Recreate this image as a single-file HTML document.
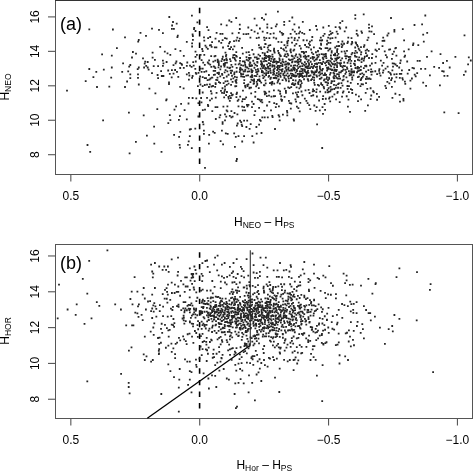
<!DOCTYPE html>
<html><head><meta charset="utf-8"><style>
html,body{margin:0;padding:0;background:#fff;}
svg{display:block;}
.t{font-family:"Liberation Sans", Arial, Helvetica, sans-serif;font-size:12px;fill:#000;}
.sub{font-size:8.5px;}
.lab{font-family:"Liberation Sans", Arial, Helvetica, sans-serif;font-size:18px;fill:#000;}
</style></head><body>
<svg width="473" height="471" viewBox="0 0 473 471">
<rect width="473" height="471" fill="#fff"/>
<rect x="55.5" y="0.5" width="417" height="174" fill="none" stroke="#555" stroke-width="1"/>
<line x1="70.83" y1="174" x2="70.83" y2="181.6" stroke="#555" stroke-width="1.1"/>
<text x="70.8" y="200" text-anchor="middle" class="t">0.5</text>
<line x1="199.7" y1="174" x2="199.7" y2="181.6" stroke="#555" stroke-width="1.1"/>
<text x="199.7" y="200" text-anchor="middle" class="t">0.0</text>
<line x1="328.56" y1="174" x2="328.56" y2="181.6" stroke="#555" stroke-width="1.1"/>
<text x="328.6" y="200" text-anchor="middle" class="t">−0.5</text>
<line x1="457.43" y1="174" x2="457.43" y2="181.6" stroke="#555" stroke-width="1.1"/>
<text x="457.4" y="200" text-anchor="middle" class="t">−1.0</text>
<line x1="48" y1="154.7" x2="55.5" y2="154.7" stroke="#555" stroke-width="1.1"/>
<text transform="translate(39 154.7) rotate(-90)" text-anchor="middle" class="t">8</text>
<line x1="48" y1="120.25" x2="55.5" y2="120.25" stroke="#555" stroke-width="1.1"/>
<text transform="translate(39 120.2) rotate(-90)" text-anchor="middle" class="t">10</text>
<line x1="48" y1="85.8" x2="55.5" y2="85.8" stroke="#555" stroke-width="1.1"/>
<text transform="translate(39 85.8) rotate(-90)" text-anchor="middle" class="t">12</text>
<line x1="48" y1="51.35" x2="55.5" y2="51.35" stroke="#555" stroke-width="1.1"/>
<text transform="translate(39 51.4) rotate(-90)" text-anchor="middle" class="t">14</text>
<line x1="48" y1="16.9" x2="55.5" y2="16.9" stroke="#555" stroke-width="1.1"/>
<text transform="translate(39 16.9) rotate(-90)" text-anchor="middle" class="t">16</text>
<text x="60" y="30.4" class="lab">(a)</text>
<text transform="translate(9 87.0) rotate(-90)" text-anchor="middle" class="t">H<tspan class="sub" dy="2">NEO</tspan></text>
<text x="264.3" y="225.6" text-anchor="middle" class="t">H<tspan class="sub" dy="2">NEO</tspan><tspan dy="-2"> – H</tspan><tspan class="sub" dy="2">PS</tspan></text>
<line x1="199.6" y1="7.8" x2="199.6" y2="164.5" stroke="#000" stroke-width="1.6" stroke-dasharray="5.4 6.2"/>
<line x1="55" y1="0.5" x2="473" y2="0.5" stroke="#333" stroke-width="1"/>
<rect x="55.5" y="244.5" width="417" height="174" fill="none" stroke="#555" stroke-width="1"/>
<line x1="70.83" y1="418" x2="70.83" y2="425.6" stroke="#555" stroke-width="1.1"/>
<text x="70.8" y="444" text-anchor="middle" class="t">0.5</text>
<line x1="199.7" y1="418" x2="199.7" y2="425.6" stroke="#555" stroke-width="1.1"/>
<text x="199.7" y="444" text-anchor="middle" class="t">0.0</text>
<line x1="328.56" y1="418" x2="328.56" y2="425.6" stroke="#555" stroke-width="1.1"/>
<text x="328.6" y="444" text-anchor="middle" class="t">−0.5</text>
<line x1="457.43" y1="418" x2="457.43" y2="425.6" stroke="#555" stroke-width="1.1"/>
<text x="457.4" y="444" text-anchor="middle" class="t">−1.0</text>
<line x1="48" y1="399.24" x2="55.5" y2="399.24" stroke="#555" stroke-width="1.1"/>
<text transform="translate(39 399.2) rotate(-90)" text-anchor="middle" class="t">8</text>
<line x1="48" y1="363.42" x2="55.5" y2="363.42" stroke="#555" stroke-width="1.1"/>
<text transform="translate(39 363.4) rotate(-90)" text-anchor="middle" class="t">10</text>
<line x1="48" y1="327.6" x2="55.5" y2="327.6" stroke="#555" stroke-width="1.1"/>
<text transform="translate(39 327.6) rotate(-90)" text-anchor="middle" class="t">12</text>
<line x1="48" y1="291.78" x2="55.5" y2="291.78" stroke="#555" stroke-width="1.1"/>
<text transform="translate(39 291.8) rotate(-90)" text-anchor="middle" class="t">14</text>
<line x1="48" y1="255.96" x2="55.5" y2="255.96" stroke="#555" stroke-width="1.1"/>
<text transform="translate(39 256.0) rotate(-90)" text-anchor="middle" class="t">16</text>
<text x="60" y="269.4" class="lab">(b)</text>
<text transform="translate(9 331.0) rotate(-90)" text-anchor="middle" class="t">H<tspan class="sub" dy="2">HOR</tspan></text>
<text x="264.3" y="468.8" text-anchor="middle" class="t">H<tspan class="sub" dy="2">Hor</tspan><tspan dy="-2"> – H</tspan><tspan class="sub" dy="2">PS</tspan></text>
<line x1="199.6" y1="252.3" x2="199.6" y2="409" stroke="#000" stroke-width="1.6" stroke-dasharray="5.4 6.2"/>
<line x1="250.3" y1="250.2" x2="250.3" y2="345.5" stroke="#333" stroke-width="1.1"/>
<line x1="147.3" y1="418.2" x2="250.3" y2="345.3" stroke="#000" stroke-width="1.3"/>
<path d="M88.40 28.40h1.8v1.8h-1.8zM112.00 28.60h1.8v1.8h-1.8zM151.10 27.80h1.8v1.8h-1.8zM139.60 32.00h1.8v1.8h-1.8zM145.10 35.00h1.8v1.8h-1.8zM124.10 36.50h1.8v1.8h-1.8zM137.90 39.00h1.8v1.8h-1.8zM137.30 40.70h1.8v1.8h-1.8zM116.00 47.30h1.8v1.8h-1.8zM101.20 53.50h1.8v1.8h-1.8zM110.90 54.70h1.8v1.8h-1.8zM132.00 51.10h1.8v1.8h-1.8zM135.10 52.80h1.8v1.8h-1.8zM151.70 51.80h1.8v1.8h-1.8zM131.10 56.60h1.8v1.8h-1.8zM142.10 57.50h1.8v1.8h-1.8zM151.70 56.80h1.8v1.8h-1.8zM154.00 59.00h1.8v1.8h-1.8zM144.30 60.70h1.8v1.8h-1.8zM146.80 61.10h1.8v1.8h-1.8zM122.20 62.40h1.8v1.8h-1.8zM129.40 64.10h1.8v1.8h-1.8zM128.30 65.80h1.8v1.8h-1.8zM143.80 62.80h1.8v1.8h-1.8zM145.30 64.90h1.8v1.8h-1.8zM143.20 66.60h1.8v1.8h-1.8zM146.80 66.60h1.8v1.8h-1.8zM147.70 68.70h1.8v1.8h-1.8zM152.80 65.30h1.8v1.8h-1.8zM137.90 66.60h1.8v1.8h-1.8zM136.80 68.30h1.8v1.8h-1.8zM110.90 66.60h1.8v1.8h-1.8zM102.90 68.70h1.8v1.8h-1.8zM88.40 68.10h1.8v1.8h-1.8zM95.40 70.90h1.8v1.8h-1.8zM121.30 70.90h1.8v1.8h-1.8zM127.30 70.40h1.8v1.8h-1.8zM129.40 73.40h1.8v1.8h-1.8zM137.10 73.40h1.8v1.8h-1.8zM151.10 72.30h1.8v1.8h-1.8zM92.50 76.20h1.8v1.8h-1.8zM110.30 76.80h1.8v1.8h-1.8zM129.40 77.20h1.8v1.8h-1.8zM137.10 77.00h1.8v1.8h-1.8zM84.80 80.20h1.8v1.8h-1.8zM126.20 80.60h1.8v1.8h-1.8zM137.90 83.60h1.8v1.8h-1.8zM96.10 86.10h1.8v1.8h-1.8zM108.40 85.70h1.8v1.8h-1.8zM124.10 86.10h1.8v1.8h-1.8zM148.50 87.80h1.8v1.8h-1.8zM66.10 89.80h1.8v1.8h-1.8zM154.50 92.50h1.8v1.8h-1.8zM128.00 111.70h1.8v1.8h-1.8zM142.80 114.50h1.8v1.8h-1.8zM102.20 119.50h1.8v1.8h-1.8zM153.20 125.70h1.8v1.8h-1.8zM146.00 134.80h1.8v1.8h-1.8zM135.00 140.90h1.8v1.8h-1.8zM153.40 142.80h1.8v1.8h-1.8zM86.60 144.10h1.8v1.8h-1.8zM89.30 151.00h1.8v1.8h-1.8zM128.70 152.50h1.8v1.8h-1.8zM168.40 16.10h1.8v1.8h-1.8zM191.00 14.80h1.8v1.8h-1.8zM172.10 21.10h1.8v1.8h-1.8zM175.80 22.70h1.8v1.8h-1.8zM171.20 24.60h1.8v1.8h-1.8zM171.00 28.00h1.8v1.8h-1.8zM173.00 28.00h1.8v1.8h-1.8zM196.50 21.40h1.8v1.8h-1.8zM158.10 29.00h1.8v1.8h-1.8zM162.00 32.20h1.8v1.8h-1.8zM193.30 26.90h1.8v1.8h-1.8zM193.10 28.30h1.8v1.8h-1.8zM194.60 30.10h1.8v1.8h-1.8zM176.90 34.70h1.8v1.8h-1.8zM176.50 36.30h1.8v1.8h-1.8zM191.70 33.60h1.8v1.8h-1.8zM192.00 35.20h1.8v1.8h-1.8zM192.00 38.90h1.8v1.8h-1.8zM185.90 41.00h1.8v1.8h-1.8zM191.20 42.40h1.8v1.8h-1.8zM191.20 45.60h1.8v1.8h-1.8zM203.10 36.50h1.8v1.8h-1.8zM203.40 39.80h1.8v1.8h-1.8zM204.50 44.70h1.8v1.8h-1.8zM159.30 46.00h1.8v1.8h-1.8zM174.50 48.30h1.8v1.8h-1.8zM201.30 48.10h1.8v1.8h-1.8zM163.90 50.70h1.8v1.8h-1.8zM166.60 52.50h1.8v1.8h-1.8zM169.40 53.90h1.8v1.8h-1.8zM182.90 54.90h1.8v1.8h-1.8zM179.50 49.90h1.8v1.8h-1.8zM162.00 59.70h1.8v1.8h-1.8zM165.70 61.10h1.8v1.8h-1.8zM162.50 62.40h1.8v1.8h-1.8zM162.00 65.00h1.8v1.8h-1.8zM157.20 65.20h1.8v1.8h-1.8zM175.50 60.60h1.8v1.8h-1.8zM174.70 62.40h1.8v1.8h-1.8zM172.60 64.30h1.8v1.8h-1.8zM179.30 62.20h1.8v1.8h-1.8zM180.60 62.90h1.8v1.8h-1.8zM181.10 64.00h1.8v1.8h-1.8zM186.40 61.60h1.8v1.8h-1.8zM185.90 65.00h1.8v1.8h-1.8zM182.90 66.90h1.8v1.8h-1.8zM179.30 67.10h1.8v1.8h-1.8zM189.10 64.80h1.8v1.8h-1.8zM192.30 61.30h1.8v1.8h-1.8zM194.90 60.60h1.8v1.8h-1.8zM190.70 65.90h1.8v1.8h-1.8zM192.80 64.80h1.8v1.8h-1.8zM194.40 68.00h1.8v1.8h-1.8zM160.20 70.30h1.8v1.8h-1.8zM167.30 69.60h1.8v1.8h-1.8zM171.00 69.30h1.8v1.8h-1.8zM174.20 69.10h1.8v1.8h-1.8zM176.10 70.90h1.8v1.8h-1.8zM168.90 73.00h1.8v1.8h-1.8zM172.60 72.70h1.8v1.8h-1.8zM156.70 74.10h1.8v1.8h-1.8zM160.90 75.10h1.8v1.8h-1.8zM162.50 75.10h1.8v1.8h-1.8zM157.20 77.20h1.8v1.8h-1.8zM170.80 76.50h1.8v1.8h-1.8zM177.40 76.00h1.8v1.8h-1.8zM185.90 73.50h1.8v1.8h-1.8zM188.00 71.90h1.8v1.8h-1.8zM188.50 74.60h1.8v1.8h-1.8zM191.70 75.10h1.8v1.8h-1.8zM191.20 76.90h1.8v1.8h-1.8zM188.00 78.80h1.8v1.8h-1.8zM194.90 71.90h1.8v1.8h-1.8zM195.40 73.00h1.8v1.8h-1.8zM168.10 81.50h1.8v1.8h-1.8zM168.10 83.30h1.8v1.8h-1.8zM179.30 86.00h1.8v1.8h-1.8zM182.70 87.50h1.8v1.8h-1.8zM165.70 98.50h1.8v1.8h-1.8zM188.00 96.90h1.8v1.8h-1.8zM191.70 97.10h1.8v1.8h-1.8zM195.40 97.40h1.8v1.8h-1.8zM194.60 50.70h1.8v1.8h-1.8zM201.80 50.20h1.8v1.8h-1.8zM196.00 53.90h1.8v1.8h-1.8zM199.70 53.90h1.8v1.8h-1.8zM203.40 53.90h1.8v1.8h-1.8zM194.60 56.00h1.8v1.8h-1.8zM200.70 59.20h1.8v1.8h-1.8zM202.30 61.80h1.8v1.8h-1.8zM203.90 64.00h1.8v1.8h-1.8zM199.70 67.70h1.8v1.8h-1.8zM201.80 67.70h1.8v1.8h-1.8zM197.60 71.90h1.8v1.8h-1.8zM200.70 70.90h1.8v1.8h-1.8zM203.40 70.90h1.8v1.8h-1.8zM199.20 75.60h1.8v1.8h-1.8zM201.80 76.20h1.8v1.8h-1.8zM203.90 77.20h1.8v1.8h-1.8zM199.50 83.60h1.8v1.8h-1.8zM197.00 85.20h1.8v1.8h-1.8zM201.80 85.20h1.8v1.8h-1.8zM203.90 84.10h1.8v1.8h-1.8zM201.80 91.60h1.8v1.8h-1.8zM200.20 97.10h1.8v1.8h-1.8zM165.30 99.40h1.8v1.8h-1.8zM180.20 103.00h1.8v1.8h-1.8zM187.60 102.60h1.8v1.8h-1.8zM175.20 105.40h1.8v1.8h-1.8zM156.40 108.20h1.8v1.8h-1.8zM173.60 108.80h1.8v1.8h-1.8zM183.70 109.20h1.8v1.8h-1.8zM168.90 114.30h1.8v1.8h-1.8zM179.00 115.30h1.8v1.8h-1.8zM169.50 119.20h1.8v1.8h-1.8zM178.00 118.90h1.8v1.8h-1.8zM185.90 118.40h1.8v1.8h-1.8zM167.40 122.20h1.8v1.8h-1.8zM188.90 128.60h1.8v1.8h-1.8zM190.00 128.20h1.8v1.8h-1.8zM194.40 127.80h1.8v1.8h-1.8zM179.40 131.00h1.8v1.8h-1.8zM173.20 134.00h1.8v1.8h-1.8zM178.20 136.00h1.8v1.8h-1.8zM188.90 135.20h1.8v1.8h-1.8zM187.80 140.40h1.8v1.8h-1.8zM178.70 143.90h1.8v1.8h-1.8zM179.10 146.70h1.8v1.8h-1.8zM187.00 143.90h1.8v1.8h-1.8zM190.90 147.30h1.8v1.8h-1.8zM160.60 150.90h1.8v1.8h-1.8zM197.50 102.20h1.8v1.8h-1.8zM200.60 101.50h1.8v1.8h-1.8zM197.50 115.60h1.8v1.8h-1.8zM201.90 109.30h1.8v1.8h-1.8zM204.10 108.80h1.8v1.8h-1.8zM201.90 121.10h1.8v1.8h-1.8zM202.50 123.40h1.8v1.8h-1.8zM203.00 129.70h1.8v1.8h-1.8zM203.00 132.90h1.8v1.8h-1.8zM204.10 167.00h1.8v1.8h-1.8zM424.40 14.60h1.8v1.8h-1.8zM401.90 28.20h1.8v1.8h-1.8zM413.60 24.10h1.8v1.8h-1.8zM421.20 23.50h1.8v1.8h-1.8zM422.30 33.70h1.8v1.8h-1.8zM426.30 32.00h1.8v1.8h-1.8zM422.90 40.70h1.8v1.8h-1.8zM403.20 39.40h1.8v1.8h-1.8zM412.10 44.30h1.8v1.8h-1.8zM412.50 42.60h1.8v1.8h-1.8zM417.40 44.30h1.8v1.8h-1.8zM463.60 34.50h1.8v1.8h-1.8zM407.80 48.50h1.8v1.8h-1.8zM403.20 50.40h1.8v1.8h-1.8zM430.70 50.40h1.8v1.8h-1.8zM404.20 54.70h1.8v1.8h-1.8zM403.60 56.00h1.8v1.8h-1.8zM395.50 54.70h1.8v1.8h-1.8zM426.10 56.00h1.8v1.8h-1.8zM439.60 53.20h1.8v1.8h-1.8zM454.50 56.00h1.8v1.8h-1.8zM467.90 56.40h1.8v1.8h-1.8zM469.90 59.60h1.8v1.8h-1.8zM467.20 63.40h1.8v1.8h-1.8zM399.80 59.60h1.8v1.8h-1.8zM406.30 60.60h1.8v1.8h-1.8zM416.70 60.00h1.8v1.8h-1.8zM418.90 60.00h1.8v1.8h-1.8zM446.00 60.00h1.8v1.8h-1.8zM442.20 62.10h1.8v1.8h-1.8zM399.30 62.30h1.8v1.8h-1.8zM396.20 64.90h1.8v1.8h-1.8zM398.30 66.60h1.8v1.8h-1.8zM433.30 65.90h1.8v1.8h-1.8zM438.20 67.00h1.8v1.8h-1.8zM448.80 66.60h1.8v1.8h-1.8zM411.60 67.00h1.8v1.8h-1.8zM413.10 67.40h1.8v1.8h-1.8zM408.30 69.10h1.8v1.8h-1.8zM420.10 68.00h1.8v1.8h-1.8zM424.40 68.00h1.8v1.8h-1.8zM401.00 69.50h1.8v1.8h-1.8zM441.30 70.20h1.8v1.8h-1.8zM442.80 70.60h1.8v1.8h-1.8zM464.70 70.60h1.8v1.8h-1.8zM463.00 74.00h1.8v1.8h-1.8zM416.30 72.30h1.8v1.8h-1.8zM406.80 72.70h1.8v1.8h-1.8zM398.90 72.90h1.8v1.8h-1.8zM400.40 72.90h1.8v1.8h-1.8zM395.70 73.30h1.8v1.8h-1.8zM413.80 73.80h1.8v1.8h-1.8zM414.80 75.50h1.8v1.8h-1.8zM429.00 74.40h1.8v1.8h-1.8zM443.50 75.00h1.8v1.8h-1.8zM446.60 75.00h1.8v1.8h-1.8zM395.50 76.50h1.8v1.8h-1.8zM398.90 77.00h1.8v1.8h-1.8zM401.50 77.20h1.8v1.8h-1.8zM401.90 78.70h1.8v1.8h-1.8zM411.00 77.60h1.8v1.8h-1.8zM409.50 79.70h1.8v1.8h-1.8zM404.00 80.80h1.8v1.8h-1.8zM404.40 82.90h1.8v1.8h-1.8zM422.30 81.80h1.8v1.8h-1.8zM425.20 85.00h1.8v1.8h-1.8zM439.00 84.40h1.8v1.8h-1.8zM409.50 87.80h1.8v1.8h-1.8zM398.70 93.90h1.8v1.8h-1.8zM402.50 98.00h1.8v1.8h-1.8zM357.10 100.30h1.8v1.8h-1.8zM367.00 104.50h1.8v1.8h-1.8zM364.30 110.00h1.8v1.8h-1.8zM399.10 100.80h1.8v1.8h-1.8zM402.60 99.60h1.8v1.8h-1.8zM443.40 111.50h1.8v1.8h-1.8zM457.70 112.20h1.8v1.8h-1.8zM207.00 103.90h1.8v1.8h-1.8zM207.30 105.10h1.8v1.8h-1.8zM209.10 99.40h1.8v1.8h-1.8zM214.60 106.20h1.8v1.8h-1.8zM216.50 106.20h1.8v1.8h-1.8zM211.40 110.20h1.8v1.8h-1.8zM222.50 105.80h1.8v1.8h-1.8zM226.50 105.40h1.8v1.8h-1.8zM225.70 109.40h1.8v1.8h-1.8zM226.50 110.50h1.8v1.8h-1.8zM230.50 110.20h1.8v1.8h-1.8zM233.60 112.10h1.8v1.8h-1.8zM236.50 113.40h1.8v1.8h-1.8zM237.60 105.40h1.8v1.8h-1.8zM241.30 105.80h1.8v1.8h-1.8zM243.20 106.20h1.8v1.8h-1.8zM241.90 109.40h1.8v1.8h-1.8zM244.10 109.40h1.8v1.8h-1.8zM246.00 103.90h1.8v1.8h-1.8zM247.60 103.90h1.8v1.8h-1.8zM246.60 105.40h1.8v1.8h-1.8zM228.90 99.90h1.8v1.8h-1.8zM236.80 99.90h1.8v1.8h-1.8zM241.30 100.40h1.8v1.8h-1.8zM251.10 100.70h1.8v1.8h-1.8zM252.70 103.10h1.8v1.8h-1.8zM259.80 100.40h1.8v1.8h-1.8zM261.40 101.50h1.8v1.8h-1.8zM268.50 101.00h1.8v1.8h-1.8zM273.30 102.30h1.8v1.8h-1.8zM275.70 103.10h1.8v1.8h-1.8zM278.00 105.40h1.8v1.8h-1.8zM274.90 106.20h1.8v1.8h-1.8zM251.10 106.20h1.8v1.8h-1.8zM254.30 110.20h1.8v1.8h-1.8zM258.20 107.00h1.8v1.8h-1.8zM263.40 109.90h1.8v1.8h-1.8zM266.10 104.60h1.8v1.8h-1.8zM270.10 109.40h1.8v1.8h-1.8zM253.50 114.20h1.8v1.8h-1.8zM219.40 114.20h1.8v1.8h-1.8zM218.60 116.50h1.8v1.8h-1.8zM224.10 113.40h1.8v1.8h-1.8zM225.40 115.70h1.8v1.8h-1.8zM228.90 115.00h1.8v1.8h-1.8zM230.50 116.50h1.8v1.8h-1.8zM231.70 115.70h1.8v1.8h-1.8zM214.90 118.10h1.8v1.8h-1.8zM224.10 119.40h1.8v1.8h-1.8zM221.70 121.30h1.8v1.8h-1.8zM221.70 122.90h1.8v1.8h-1.8zM239.20 119.70h1.8v1.8h-1.8zM243.20 119.70h1.8v1.8h-1.8zM246.30 119.70h1.8v1.8h-1.8zM236.80 122.60h1.8v1.8h-1.8zM240.30 121.30h1.8v1.8h-1.8zM240.80 123.70h1.8v1.8h-1.8zM236.00 124.80h1.8v1.8h-1.8zM241.30 125.30h1.8v1.8h-1.8zM249.80 123.20h1.8v1.8h-1.8zM245.50 126.10h1.8v1.8h-1.8zM248.70 128.00h1.8v1.8h-1.8zM259.00 118.90h1.8v1.8h-1.8zM259.80 120.00h1.8v1.8h-1.8zM261.40 116.50h1.8v1.8h-1.8zM263.80 116.50h1.8v1.8h-1.8zM266.90 116.50h1.8v1.8h-1.8zM271.40 115.00h1.8v1.8h-1.8zM271.70 116.20h1.8v1.8h-1.8zM277.70 114.20h1.8v1.8h-1.8zM278.40 115.70h1.8v1.8h-1.8zM278.80 119.40h1.8v1.8h-1.8zM258.20 123.70h1.8v1.8h-1.8zM255.50 126.10h1.8v1.8h-1.8zM274.10 128.10h1.8v1.8h-1.8zM212.20 130.80h1.8v1.8h-1.8zM213.80 131.90h1.8v1.8h-1.8zM221.00 129.70h1.8v1.8h-1.8zM224.90 132.40h1.8v1.8h-1.8zM226.80 132.90h1.8v1.8h-1.8zM233.30 132.40h1.8v1.8h-1.8zM208.30 134.00h1.8v1.8h-1.8zM234.90 135.90h1.8v1.8h-1.8zM237.60 135.30h1.8v1.8h-1.8zM243.20 135.30h1.8v1.8h-1.8zM251.40 135.30h1.8v1.8h-1.8zM255.80 132.70h1.8v1.8h-1.8zM260.60 132.10h1.8v1.8h-1.8zM219.70 140.30h1.8v1.8h-1.8zM222.20 143.50h1.8v1.8h-1.8zM208.00 142.70h1.8v1.8h-1.8zM241.30 140.60h1.8v1.8h-1.8zM252.70 141.60h1.8v1.8h-1.8zM234.00 146.00h1.8v1.8h-1.8zM236.00 158.10h1.8v1.8h-1.8zM235.50 160.10h1.8v1.8h-1.8zM280.90 99.90h1.8v1.8h-1.8zM288.00 99.90h1.8v1.8h-1.8zM288.80 102.30h1.8v1.8h-1.8zM290.40 102.60h1.8v1.8h-1.8zM295.20 100.70h1.8v1.8h-1.8zM299.40 102.00h1.8v1.8h-1.8zM305.50 99.90h1.8v1.8h-1.8zM306.70 102.30h1.8v1.8h-1.8zM308.30 104.20h1.8v1.8h-1.8zM318.20 99.60h1.8v1.8h-1.8zM329.30 100.40h1.8v1.8h-1.8zM338.80 101.30h1.8v1.8h-1.8zM323.70 103.10h1.8v1.8h-1.8zM296.00 105.80h1.8v1.8h-1.8zM297.50 107.30h1.8v1.8h-1.8zM289.90 107.80h1.8v1.8h-1.8zM298.80 110.50h1.8v1.8h-1.8zM309.40 108.30h1.8v1.8h-1.8zM313.40 104.60h1.8v1.8h-1.8zM315.80 106.20h1.8v1.8h-1.8zM321.60 106.20h1.8v1.8h-1.8zM314.70 109.90h1.8v1.8h-1.8zM318.90 109.40h1.8v1.8h-1.8zM324.20 108.90h1.8v1.8h-1.8zM322.10 112.90h1.8v1.8h-1.8zM347.00 105.80h1.8v1.8h-1.8zM349.10 111.00h1.8v1.8h-1.8zM286.10 109.90h1.8v1.8h-1.8zM286.40 111.80h1.8v1.8h-1.8zM286.40 114.50h1.8v1.8h-1.8zM282.00 113.70h1.8v1.8h-1.8zM292.80 118.40h1.8v1.8h-1.8zM293.10 119.70h1.8v1.8h-1.8zM316.20 123.40h1.8v1.8h-1.8zM321.30 147.10h1.8v1.8h-1.8zM277.00 10.70h1.8v1.8h-1.8zM264.90 13.50h1.8v1.8h-1.8zM235.30 17.10h1.8v1.8h-1.8zM253.70 17.70h1.8v1.8h-1.8zM261.10 17.10h1.8v1.8h-1.8zM263.20 18.80h1.8v1.8h-1.8zM228.40 19.60h1.8v1.8h-1.8zM230.50 20.90h1.8v1.8h-1.8zM291.40 16.60h1.8v1.8h-1.8zM288.60 20.20h1.8v1.8h-1.8zM283.30 20.90h1.8v1.8h-1.8zM301.90 20.90h1.8v1.8h-1.8zM220.30 23.40h1.8v1.8h-1.8zM225.80 24.50h1.8v1.8h-1.8zM238.90 23.80h1.8v1.8h-1.8zM255.80 24.50h1.8v1.8h-1.8zM266.40 23.40h1.8v1.8h-1.8zM275.90 23.40h1.8v1.8h-1.8zM274.90 25.50h1.8v1.8h-1.8zM283.30 24.00h1.8v1.8h-1.8zM293.50 23.40h1.8v1.8h-1.8zM206.20 26.20h1.8v1.8h-1.8zM247.40 26.60h1.8v1.8h-1.8zM238.90 28.10h1.8v1.8h-1.8zM259.00 27.60h1.8v1.8h-1.8zM266.40 26.60h1.8v1.8h-1.8zM270.60 27.20h1.8v1.8h-1.8zM298.10 26.60h1.8v1.8h-1.8zM207.60 29.30h1.8v1.8h-1.8zM291.80 28.70h1.8v1.8h-1.8zM293.90 30.80h1.8v1.8h-1.8zM250.60 29.30h1.8v1.8h-1.8zM253.70 30.80h1.8v1.8h-1.8zM261.80 30.80h1.8v1.8h-1.8zM299.20 30.80h1.8v1.8h-1.8zM301.30 31.90h1.8v1.8h-1.8zM215.70 31.90h1.8v1.8h-1.8zM219.50 32.90h1.8v1.8h-1.8zM221.60 32.90h1.8v1.8h-1.8zM231.50 32.50h1.8v1.8h-1.8zM237.90 31.90h1.8v1.8h-1.8zM242.70 33.30h1.8v1.8h-1.8zM245.30 33.30h1.8v1.8h-1.8zM247.40 32.90h1.8v1.8h-1.8zM256.90 32.50h1.8v1.8h-1.8zM266.40 31.90h1.8v1.8h-1.8zM269.60 32.90h1.8v1.8h-1.8zM272.80 32.50h1.8v1.8h-1.8zM279.10 30.80h1.8v1.8h-1.8zM280.80 31.90h1.8v1.8h-1.8zM282.30 32.90h1.8v1.8h-1.8zM281.60 34.00h1.8v1.8h-1.8zM289.70 32.90h1.8v1.8h-1.8zM295.60 32.90h1.8v1.8h-1.8zM298.10 32.50h1.8v1.8h-1.8zM303.40 32.90h1.8v1.8h-1.8zM207.20 37.20h1.8v1.8h-1.8zM209.30 36.10h1.8v1.8h-1.8zM214.60 37.80h1.8v1.8h-1.8zM224.10 37.20h1.8v1.8h-1.8zM225.80 37.80h1.8v1.8h-1.8zM236.40 36.70h1.8v1.8h-1.8zM238.90 37.80h1.8v1.8h-1.8zM249.50 36.70h1.8v1.8h-1.8zM255.80 37.20h1.8v1.8h-1.8zM258.00 36.70h1.8v1.8h-1.8zM263.20 36.70h1.8v1.8h-1.8zM265.40 37.20h1.8v1.8h-1.8zM268.50 37.20h1.8v1.8h-1.8zM272.80 36.70h1.8v1.8h-1.8zM275.30 37.60h1.8v1.8h-1.8zM287.60 37.20h1.8v1.8h-1.8zM290.70 36.70h1.8v1.8h-1.8zM293.90 37.20h1.8v1.8h-1.8zM298.10 36.70h1.8v1.8h-1.8zM354.40 14.30h1.8v1.8h-1.8zM354.40 17.70h1.8v1.8h-1.8zM362.80 13.50h1.8v1.8h-1.8zM390.10 17.10h1.8v1.8h-1.8zM341.50 20.20h1.8v1.8h-1.8zM339.30 21.90h1.8v1.8h-1.8zM315.20 25.10h1.8v1.8h-1.8zM322.40 26.60h1.8v1.8h-1.8zM327.90 24.90h1.8v1.8h-1.8zM334.70 26.20h1.8v1.8h-1.8zM338.50 26.20h1.8v1.8h-1.8zM339.30 27.60h1.8v1.8h-1.8zM345.30 26.60h1.8v1.8h-1.8zM308.90 29.10h1.8v1.8h-1.8zM316.10 28.70h1.8v1.8h-1.8zM329.40 30.40h1.8v1.8h-1.8zM331.50 31.90h1.8v1.8h-1.8zM330.10 32.90h1.8v1.8h-1.8zM328.40 34.00h1.8v1.8h-1.8zM335.80 30.80h1.8v1.8h-1.8zM336.80 32.90h1.8v1.8h-1.8zM343.80 30.40h1.8v1.8h-1.8zM355.80 29.80h1.8v1.8h-1.8zM360.50 30.40h1.8v1.8h-1.8zM361.10 31.90h1.8v1.8h-1.8zM368.10 23.80h1.8v1.8h-1.8zM371.10 25.50h1.8v1.8h-1.8zM368.10 27.00h1.8v1.8h-1.8zM368.50 30.40h1.8v1.8h-1.8zM370.60 30.80h1.8v1.8h-1.8zM393.50 29.10h1.8v1.8h-1.8zM393.50 30.80h1.8v1.8h-1.8zM323.70 32.90h1.8v1.8h-1.8zM322.40 35.00h1.8v1.8h-1.8zM355.80 32.90h1.8v1.8h-1.8zM356.90 34.60h1.8v1.8h-1.8zM373.20 33.30h1.8v1.8h-1.8zM387.60 32.50h1.8v1.8h-1.8zM386.50 34.60h1.8v1.8h-1.8zM311.40 36.10h1.8v1.8h-1.8zM319.90 36.70h1.8v1.8h-1.8zM327.30 36.70h1.8v1.8h-1.8zM329.40 37.60h1.8v1.8h-1.8zM331.50 37.20h1.8v1.8h-1.8zM334.70 36.70h1.8v1.8h-1.8zM347.40 36.70h1.8v1.8h-1.8zM350.60 37.20h1.8v1.8h-1.8zM367.50 36.70h1.8v1.8h-1.8zM382.30 36.70h1.8v1.8h-1.8zM106.50 249.40h1.8v1.8h-1.8zM88.30 260.00h1.8v1.8h-1.8zM81.90 278.00h1.8v1.8h-1.8zM58.10 283.70h1.8v1.8h-1.8zM86.40 292.80h1.8v1.8h-1.8zM75.80 303.40h1.8v1.8h-1.8zM66.70 308.60h1.8v1.8h-1.8zM74.80 313.90h1.8v1.8h-1.8zM56.80 317.50h1.8v1.8h-1.8zM83.60 323.00h1.8v1.8h-1.8zM90.60 317.50h1.8v1.8h-1.8zM95.90 301.20h1.8v1.8h-1.8zM98.40 305.00h1.8v1.8h-1.8zM114.30 303.40h1.8v1.8h-1.8zM120.00 308.60h1.8v1.8h-1.8zM125.30 324.50h1.8v1.8h-1.8zM131.20 324.50h1.8v1.8h-1.8zM132.50 324.50h1.8v1.8h-1.8zM133.70 276.30h1.8v1.8h-1.8zM150.20 263.80h1.8v1.8h-1.8zM154.00 262.10h1.8v1.8h-1.8zM151.30 270.60h1.8v1.8h-1.8zM152.40 272.70h1.8v1.8h-1.8zM151.90 276.50h1.8v1.8h-1.8zM130.80 290.70h1.8v1.8h-1.8zM136.50 290.70h1.8v1.8h-1.8zM142.80 287.10h1.8v1.8h-1.8zM154.00 287.10h1.8v1.8h-1.8zM141.80 293.80h1.8v1.8h-1.8zM151.30 293.80h1.8v1.8h-1.8zM129.50 298.10h1.8v1.8h-1.8zM143.90 297.60h1.8v1.8h-1.8zM147.10 300.60h1.8v1.8h-1.8zM149.20 300.20h1.8v1.8h-1.8zM131.60 303.40h1.8v1.8h-1.8zM138.00 303.40h1.8v1.8h-1.8zM137.10 305.50h1.8v1.8h-1.8zM153.40 302.30h1.8v1.8h-1.8zM152.40 304.40h1.8v1.8h-1.8zM154.50 305.50h1.8v1.8h-1.8zM145.00 308.60h1.8v1.8h-1.8zM151.30 307.60h1.8v1.8h-1.8zM150.20 310.30h1.8v1.8h-1.8zM152.80 310.80h1.8v1.8h-1.8zM134.40 311.80h1.8v1.8h-1.8zM136.50 312.40h1.8v1.8h-1.8zM137.60 316.00h1.8v1.8h-1.8zM140.70 313.90h1.8v1.8h-1.8zM141.80 319.20h1.8v1.8h-1.8zM151.30 317.10h1.8v1.8h-1.8zM153.40 322.40h1.8v1.8h-1.8zM152.40 326.60h1.8v1.8h-1.8zM149.80 330.70h1.8v1.8h-1.8zM152.80 333.90h1.8v1.8h-1.8zM143.90 335.80h1.8v1.8h-1.8zM130.60 346.40h1.8v1.8h-1.8zM128.00 349.80h1.8v1.8h-1.8zM142.80 353.40h1.8v1.8h-1.8zM145.60 355.50h1.8v1.8h-1.8zM143.90 359.10h1.8v1.8h-1.8zM151.90 359.10h1.8v1.8h-1.8zM150.20 360.80h1.8v1.8h-1.8zM120.20 373.00h1.8v1.8h-1.8zM86.40 380.40h1.8v1.8h-1.8zM127.80 381.90h1.8v1.8h-1.8zM127.80 386.10h1.8v1.8h-1.8zM128.70 392.50h1.8v1.8h-1.8zM170.80 258.50h1.8v1.8h-1.8zM177.10 256.70h1.8v1.8h-1.8zM158.30 265.60h1.8v1.8h-1.8zM163.40 265.60h1.8v1.8h-1.8zM167.00 265.60h1.8v1.8h-1.8zM161.70 268.90h1.8v1.8h-1.8zM165.20 268.90h1.8v1.8h-1.8zM167.80 271.00h1.8v1.8h-1.8zM177.20 270.90h1.8v1.8h-1.8zM176.70 274.60h1.8v1.8h-1.8zM188.90 267.50h1.8v1.8h-1.8zM193.50 265.60h1.8v1.8h-1.8zM194.60 269.10h1.8v1.8h-1.8zM201.50 262.20h1.8v1.8h-1.8zM204.50 260.10h1.8v1.8h-1.8zM190.70 273.10h1.8v1.8h-1.8zM192.30 273.10h1.8v1.8h-1.8zM195.40 272.80h1.8v1.8h-1.8zM191.70 274.90h1.8v1.8h-1.8zM192.30 276.50h1.8v1.8h-1.8zM190.70 276.90h1.8v1.8h-1.8zM184.30 276.50h1.8v1.8h-1.8zM185.90 276.50h1.8v1.8h-1.8zM200.70 273.00h1.8v1.8h-1.8zM201.80 274.90h1.8v1.8h-1.8zM201.30 280.30h1.8v1.8h-1.8zM189.60 279.70h1.8v1.8h-1.8zM193.80 280.30h1.8v1.8h-1.8zM180.10 279.90h1.8v1.8h-1.8zM170.80 281.80h1.8v1.8h-1.8zM167.10 283.70h1.8v1.8h-1.8zM174.00 283.70h1.8v1.8h-1.8zM182.50 283.40h1.8v1.8h-1.8zM191.20 282.90h1.8v1.8h-1.8zM177.40 285.60h1.8v1.8h-1.8zM184.80 285.60h1.8v1.8h-1.8zM186.70 285.60h1.8v1.8h-1.8zM165.70 287.20h1.8v1.8h-1.8zM164.10 289.00h1.8v1.8h-1.8zM188.90 289.00h1.8v1.8h-1.8zM192.80 286.60h1.8v1.8h-1.8zM193.30 288.70h1.8v1.8h-1.8zM200.20 289.80h1.8v1.8h-1.8zM201.80 288.70h1.8v1.8h-1.8zM166.20 290.90h1.8v1.8h-1.8zM171.00 292.10h1.8v1.8h-1.8zM173.70 292.10h1.8v1.8h-1.8zM175.80 290.90h1.8v1.8h-1.8zM177.40 290.90h1.8v1.8h-1.8zM183.80 290.90h1.8v1.8h-1.8zM195.40 291.40h1.8v1.8h-1.8zM251.60 252.60h1.8v1.8h-1.8zM216.70 254.70h1.8v1.8h-1.8zM214.20 256.80h1.8v1.8h-1.8zM235.80 258.30h1.8v1.8h-1.8zM245.70 258.30h1.8v1.8h-1.8zM259.60 256.80h1.8v1.8h-1.8zM264.90 256.80h1.8v1.8h-1.8zM206.20 259.60h1.8v1.8h-1.8zM223.70 262.10h1.8v1.8h-1.8zM221.00 263.80h1.8v1.8h-1.8zM232.60 262.10h1.8v1.8h-1.8zM279.10 262.10h1.8v1.8h-1.8zM289.70 264.20h1.8v1.8h-1.8zM290.10 265.90h1.8v1.8h-1.8zM303.40 261.10h1.8v1.8h-1.8zM213.10 263.80h1.8v1.8h-1.8zM252.70 264.20h1.8v1.8h-1.8zM262.60 264.20h1.8v1.8h-1.8zM229.00 265.90h1.8v1.8h-1.8zM240.00 265.90h1.8v1.8h-1.8zM241.00 268.00h1.8v1.8h-1.8zM242.70 270.20h1.8v1.8h-1.8zM206.80 265.90h1.8v1.8h-1.8zM266.40 266.80h1.8v1.8h-1.8zM216.30 269.50h1.8v1.8h-1.8zM232.20 270.60h1.8v1.8h-1.8zM230.90 272.30h1.8v1.8h-1.8zM208.90 271.20h1.8v1.8h-1.8zM252.70 271.60h1.8v1.8h-1.8zM255.80 272.30h1.8v1.8h-1.8zM259.00 271.00h1.8v1.8h-1.8zM272.80 269.50h1.8v1.8h-1.8zM276.60 269.50h1.8v1.8h-1.8zM282.90 269.50h1.8v1.8h-1.8zM285.40 268.90h1.8v1.8h-1.8zM288.60 270.60h1.8v1.8h-1.8zM301.90 268.50h1.8v1.8h-1.8zM236.80 273.10h1.8v1.8h-1.8zM217.80 274.40h1.8v1.8h-1.8zM221.00 275.40h1.8v1.8h-1.8zM223.10 276.90h1.8v1.8h-1.8zM226.20 275.90h1.8v1.8h-1.8zM228.80 274.40h1.8v1.8h-1.8zM232.60 275.90h1.8v1.8h-1.8zM235.10 277.30h1.8v1.8h-1.8zM240.60 275.20h1.8v1.8h-1.8zM243.20 276.50h1.8v1.8h-1.8zM247.40 274.80h1.8v1.8h-1.8zM254.10 276.90h1.8v1.8h-1.8zM256.90 276.90h1.8v1.8h-1.8zM259.00 275.20h1.8v1.8h-1.8zM266.40 275.90h1.8v1.8h-1.8zM275.90 275.90h1.8v1.8h-1.8zM278.00 275.90h1.8v1.8h-1.8zM281.20 276.50h1.8v1.8h-1.8zM288.00 275.90h1.8v1.8h-1.8zM290.70 277.30h1.8v1.8h-1.8zM298.10 275.90h1.8v1.8h-1.8zM299.80 274.40h1.8v1.8h-1.8zM303.40 272.70h1.8v1.8h-1.8zM211.40 280.10h1.8v1.8h-1.8zM219.90 280.70h1.8v1.8h-1.8zM224.10 281.60h1.8v1.8h-1.8zM231.50 281.60h1.8v1.8h-1.8zM233.60 281.20h1.8v1.8h-1.8zM238.90 281.60h1.8v1.8h-1.8zM248.40 281.20h1.8v1.8h-1.8zM268.50 281.20h1.8v1.8h-1.8zM293.90 280.70h1.8v1.8h-1.8zM299.20 281.20h1.8v1.8h-1.8zM313.10 263.80h1.8v1.8h-1.8zM328.40 265.30h1.8v1.8h-1.8zM398.50 267.40h1.8v1.8h-1.8zM313.10 272.70h1.8v1.8h-1.8zM316.70 276.90h1.8v1.8h-1.8zM318.20 278.00h1.8v1.8h-1.8zM322.40 274.80h1.8v1.8h-1.8zM324.60 276.50h1.8v1.8h-1.8zM342.70 272.70h1.8v1.8h-1.8zM345.70 274.80h1.8v1.8h-1.8zM345.70 279.50h1.8v1.8h-1.8zM367.50 278.00h1.8v1.8h-1.8zM395.60 276.30h1.8v1.8h-1.8zM307.60 278.00h1.8v1.8h-1.8zM309.30 279.50h1.8v1.8h-1.8zM307.60 281.20h1.8v1.8h-1.8zM330.10 282.20h1.8v1.8h-1.8zM344.20 282.20h1.8v1.8h-1.8zM374.90 282.20h1.8v1.8h-1.8zM416.10 271.20h1.8v1.8h-1.8zM360.10 284.80h1.8v1.8h-1.8zM374.60 283.30h1.8v1.8h-1.8zM371.50 292.70h1.8v1.8h-1.8zM429.70 283.30h1.8v1.8h-1.8zM429.00 288.90h1.8v1.8h-1.8zM355.70 301.20h1.8v1.8h-1.8zM363.00 305.30h1.8v1.8h-1.8zM365.20 309.10h1.8v1.8h-1.8zM367.70 312.20h1.8v1.8h-1.8zM369.30 312.20h1.8v1.8h-1.8zM355.70 312.20h1.8v1.8h-1.8zM374.00 315.70h1.8v1.8h-1.8zM369.90 319.40h1.8v1.8h-1.8zM393.50 314.10h1.8v1.8h-1.8zM398.50 317.90h1.8v1.8h-1.8zM415.80 319.40h1.8v1.8h-1.8zM356.70 321.00h1.8v1.8h-1.8zM361.40 323.20h1.8v1.8h-1.8zM356.00 325.10h1.8v1.8h-1.8zM362.00 328.20h1.8v1.8h-1.8zM359.80 332.00h1.8v1.8h-1.8zM363.00 337.40h1.8v1.8h-1.8zM379.00 326.70h1.8v1.8h-1.8zM387.80 328.20h1.8v1.8h-1.8zM391.30 325.10h1.8v1.8h-1.8zM391.90 330.40h1.8v1.8h-1.8zM384.00 343.00h1.8v1.8h-1.8zM432.20 371.30h1.8v1.8h-1.8zM167.40 363.50h1.8v1.8h-1.8zM195.30 363.90h1.8v1.8h-1.8zM195.70 366.00h1.8v1.8h-1.8zM178.80 368.10h1.8v1.8h-1.8zM188.90 370.20h1.8v1.8h-1.8zM190.60 371.30h1.8v1.8h-1.8zM169.50 370.20h1.8v1.8h-1.8zM202.70 372.40h1.8v1.8h-1.8zM211.10 374.50h1.8v1.8h-1.8zM214.30 374.90h1.8v1.8h-1.8zM218.50 369.80h1.8v1.8h-1.8zM222.80 368.10h1.8v1.8h-1.8zM235.40 369.80h1.8v1.8h-1.8zM239.20 368.10h1.8v1.8h-1.8zM241.40 369.80h1.8v1.8h-1.8zM228.00 378.70h1.8v1.8h-1.8zM225.90 377.60h1.8v1.8h-1.8zM239.70 378.30h1.8v1.8h-1.8zM248.10 374.50h1.8v1.8h-1.8zM173.10 376.20h1.8v1.8h-1.8zM178.40 378.70h1.8v1.8h-1.8zM188.90 378.70h1.8v1.8h-1.8zM207.50 377.60h1.8v1.8h-1.8zM234.40 382.50h1.8v1.8h-1.8zM237.60 381.90h1.8v1.8h-1.8zM242.80 382.50h1.8v1.8h-1.8zM251.30 381.90h1.8v1.8h-1.8zM187.20 384.00h1.8v1.8h-1.8zM177.90 386.70h1.8v1.8h-1.8zM208.00 387.60h1.8v1.8h-1.8zM215.40 386.10h1.8v1.8h-1.8zM190.60 391.40h1.8v1.8h-1.8zM160.40 393.10h1.8v1.8h-1.8zM233.70 393.10h1.8v1.8h-1.8zM247.70 391.40h1.8v1.8h-1.8zM254.00 399.40h1.8v1.8h-1.8zM236.10 405.80h1.8v1.8h-1.8zM235.00 407.20h1.8v1.8h-1.8zM177.90 410.80h1.8v1.8h-1.8zM216.40 361.80h1.8v1.8h-1.8zM219.60 360.70h1.8v1.8h-1.8zM214.30 364.30h1.8v1.8h-1.8zM234.40 363.90h1.8v1.8h-1.8zM237.60 362.80h1.8v1.8h-1.8zM240.70 362.20h1.8v1.8h-1.8zM246.00 361.80h1.8v1.8h-1.8zM249.20 362.20h1.8v1.8h-1.8zM252.40 363.90h1.8v1.8h-1.8zM188.90 360.70h1.8v1.8h-1.8zM186.40 360.70h1.8v1.8h-1.8zM205.80 360.10h1.8v1.8h-1.8zM256.80 360.40h1.8v1.8h-1.8zM263.10 359.10h1.8v1.8h-1.8zM260.40 362.10h1.8v1.8h-1.8zM264.00 364.20h1.8v1.8h-1.8zM266.70 365.70h1.8v1.8h-1.8zM273.10 359.10h1.8v1.8h-1.8zM286.80 360.40h1.8v1.8h-1.8zM288.90 359.10h1.8v1.8h-1.8zM292.70 359.10h1.8v1.8h-1.8zM297.40 359.40h1.8v1.8h-1.8zM296.30 362.60h1.8v1.8h-1.8zM309.60 359.10h1.8v1.8h-1.8zM321.70 364.20h1.8v1.8h-1.8zM338.60 362.60h1.8v1.8h-1.8zM347.10 359.10h1.8v1.8h-1.8zM258.90 367.80h1.8v1.8h-1.8zM278.80 367.80h1.8v1.8h-1.8zM292.70 369.30h1.8v1.8h-1.8zM257.60 371.40h1.8v1.8h-1.8zM255.70 373.60h1.8v1.8h-1.8zM316.00 374.80h1.8v1.8h-1.8zM274.10 376.70h1.8v1.8h-1.8zM260.40 380.10h1.8v1.8h-1.8zM278.40 391.10h1.8v1.8h-1.8zM321.30 400.20h1.8v1.8h-1.8zM218.12 40.36h1.8v1.8h-1.8zM221.71 39.28h1.8v1.8h-1.8zM229.06 41.03h1.8v1.8h-1.8zM233.13 40.16h1.8v1.8h-1.8zM235.48 39.58h1.8v1.8h-1.8zM238.03 39.98h1.8v1.8h-1.8zM263.68 39.24h1.8v1.8h-1.8zM277.52 40.92h1.8v1.8h-1.8zM286.36 40.66h1.8v1.8h-1.8zM287.27 39.77h1.8v1.8h-1.8zM293.59 39.30h1.8v1.8h-1.8zM296.69 39.46h1.8v1.8h-1.8zM302.56 39.36h1.8v1.8h-1.8zM305.94 39.53h1.8v1.8h-1.8zM309.04 40.71h1.8v1.8h-1.8zM310.87 39.52h1.8v1.8h-1.8zM319.08 39.53h1.8v1.8h-1.8zM320.65 39.76h1.8v1.8h-1.8zM321.25 39.28h1.8v1.8h-1.8zM326.30 39.84h1.8v1.8h-1.8zM337.41 40.92h1.8v1.8h-1.8zM341.48 40.58h1.8v1.8h-1.8zM347.00 40.86h1.8v1.8h-1.8zM351.18 41.03h1.8v1.8h-1.8zM366.54 39.24h1.8v1.8h-1.8zM381.64 39.99h1.8v1.8h-1.8zM383.45 39.84h1.8v1.8h-1.8zM211.17 41.14h1.8v1.8h-1.8zM220.37 42.06h1.8v1.8h-1.8zM228.19 42.57h1.8v1.8h-1.8zM264.38 43.09h1.8v1.8h-1.8zM280.60 41.16h1.8v1.8h-1.8zM286.50 42.09h1.8v1.8h-1.8zM291.12 41.70h1.8v1.8h-1.8zM295.44 42.91h1.8v1.8h-1.8zM307.96 42.71h1.8v1.8h-1.8zM320.09 42.77h1.8v1.8h-1.8zM327.44 42.00h1.8v1.8h-1.8zM329.53 41.93h1.8v1.8h-1.8zM343.16 42.85h1.8v1.8h-1.8zM346.52 42.24h1.8v1.8h-1.8zM351.37 42.01h1.8v1.8h-1.8zM354.76 41.57h1.8v1.8h-1.8zM355.19 42.36h1.8v1.8h-1.8zM376.04 42.53h1.8v1.8h-1.8zM208.97 44.54h1.8v1.8h-1.8zM210.01 44.35h1.8v1.8h-1.8zM257.98 44.20h1.8v1.8h-1.8zM264.72 43.23h1.8v1.8h-1.8zM267.77 44.68h1.8v1.8h-1.8zM269.40 44.13h1.8v1.8h-1.8zM283.54 44.15h1.8v1.8h-1.8zM286.56 44.38h1.8v1.8h-1.8zM293.86 44.79h1.8v1.8h-1.8zM298.80 45.04h1.8v1.8h-1.8zM304.17 44.11h1.8v1.8h-1.8zM309.04 44.13h1.8v1.8h-1.8zM320.18 43.93h1.8v1.8h-1.8zM326.05 43.35h1.8v1.8h-1.8zM338.34 44.95h1.8v1.8h-1.8zM340.66 43.15h1.8v1.8h-1.8zM341.55 44.47h1.8v1.8h-1.8zM350.56 43.35h1.8v1.8h-1.8zM356.16 43.97h1.8v1.8h-1.8zM363.51 44.36h1.8v1.8h-1.8zM205.58 46.55h1.8v1.8h-1.8zM210.76 45.94h1.8v1.8h-1.8zM213.91 46.47h1.8v1.8h-1.8zM215.50 46.46h1.8v1.8h-1.8zM222.11 46.62h1.8v1.8h-1.8zM227.24 45.31h1.8v1.8h-1.8zM230.20 46.13h1.8v1.8h-1.8zM233.47 45.51h1.8v1.8h-1.8zM241.22 47.00h1.8v1.8h-1.8zM258.50 46.79h1.8v1.8h-1.8zM260.01 46.58h1.8v1.8h-1.8zM263.43 46.13h1.8v1.8h-1.8zM266.89 46.70h1.8v1.8h-1.8zM284.92 46.59h1.8v1.8h-1.8zM305.78 46.04h1.8v1.8h-1.8zM307.81 46.38h1.8v1.8h-1.8zM312.99 46.43h1.8v1.8h-1.8zM334.33 46.58h1.8v1.8h-1.8zM335.90 45.20h1.8v1.8h-1.8zM337.85 45.30h1.8v1.8h-1.8zM340.91 46.20h1.8v1.8h-1.8zM354.30 46.62h1.8v1.8h-1.8zM356.96 45.42h1.8v1.8h-1.8zM360.09 46.32h1.8v1.8h-1.8zM362.99 45.94h1.8v1.8h-1.8zM381.59 45.19h1.8v1.8h-1.8zM395.08 46.99h1.8v1.8h-1.8zM206.91 47.96h1.8v1.8h-1.8zM228.35 48.01h1.8v1.8h-1.8zM229.20 48.16h1.8v1.8h-1.8zM231.99 48.44h1.8v1.8h-1.8zM251.33 48.89h1.8v1.8h-1.8zM260.47 48.23h1.8v1.8h-1.8zM267.60 49.06h1.8v1.8h-1.8zM273.22 47.64h1.8v1.8h-1.8zM280.18 47.24h1.8v1.8h-1.8zM282.45 48.20h1.8v1.8h-1.8zM289.79 48.59h1.8v1.8h-1.8zM293.34 48.72h1.8v1.8h-1.8zM299.95 47.62h1.8v1.8h-1.8zM310.20 48.59h1.8v1.8h-1.8zM318.85 47.26h1.8v1.8h-1.8zM320.23 48.07h1.8v1.8h-1.8zM324.65 47.25h1.8v1.8h-1.8zM326.42 47.26h1.8v1.8h-1.8zM328.55 48.49h1.8v1.8h-1.8zM329.39 47.82h1.8v1.8h-1.8zM336.52 48.24h1.8v1.8h-1.8zM357.82 47.83h1.8v1.8h-1.8zM366.23 48.69h1.8v1.8h-1.8zM374.62 48.86h1.8v1.8h-1.8zM378.13 48.19h1.8v1.8h-1.8zM388.19 48.68h1.8v1.8h-1.8zM389.26 48.57h1.8v1.8h-1.8zM394.37 47.39h1.8v1.8h-1.8zM266.58 51.08h1.8v1.8h-1.8zM269.51 49.95h1.8v1.8h-1.8zM273.04 49.22h1.8v1.8h-1.8zM273.33 50.40h1.8v1.8h-1.8zM277.22 50.02h1.8v1.8h-1.8zM283.32 49.47h1.8v1.8h-1.8zM285.57 50.53h1.8v1.8h-1.8zM289.47 49.66h1.8v1.8h-1.8zM292.62 49.72h1.8v1.8h-1.8zM300.87 50.93h1.8v1.8h-1.8zM302.19 51.01h1.8v1.8h-1.8zM305.20 51.00h1.8v1.8h-1.8zM317.08 50.42h1.8v1.8h-1.8zM317.12 50.05h1.8v1.8h-1.8zM327.41 49.74h1.8v1.8h-1.8zM330.84 50.13h1.8v1.8h-1.8zM336.17 49.40h1.8v1.8h-1.8zM340.74 50.79h1.8v1.8h-1.8zM343.64 50.53h1.8v1.8h-1.8zM346.06 50.04h1.8v1.8h-1.8zM354.68 49.93h1.8v1.8h-1.8zM358.75 49.52h1.8v1.8h-1.8zM364.76 49.72h1.8v1.8h-1.8zM367.71 50.03h1.8v1.8h-1.8zM375.89 50.02h1.8v1.8h-1.8zM383.85 50.52h1.8v1.8h-1.8zM393.08 50.70h1.8v1.8h-1.8zM224.56 51.76h1.8v1.8h-1.8zM235.38 51.29h1.8v1.8h-1.8zM241.90 52.77h1.8v1.8h-1.8zM245.55 51.41h1.8v1.8h-1.8zM247.91 51.25h1.8v1.8h-1.8zM261.76 51.92h1.8v1.8h-1.8zM263.90 52.50h1.8v1.8h-1.8zM273.76 51.78h1.8v1.8h-1.8zM277.86 52.12h1.8v1.8h-1.8zM286.63 52.91h1.8v1.8h-1.8zM290.10 51.38h1.8v1.8h-1.8zM302.99 52.35h1.8v1.8h-1.8zM303.27 51.59h1.8v1.8h-1.8zM310.96 51.82h1.8v1.8h-1.8zM315.05 51.37h1.8v1.8h-1.8zM324.92 53.08h1.8v1.8h-1.8zM330.75 51.68h1.8v1.8h-1.8zM334.25 52.76h1.8v1.8h-1.8zM336.20 51.25h1.8v1.8h-1.8zM337.46 53.07h1.8v1.8h-1.8zM344.44 52.58h1.8v1.8h-1.8zM351.50 52.04h1.8v1.8h-1.8zM353.87 52.24h1.8v1.8h-1.8zM356.14 51.63h1.8v1.8h-1.8zM360.38 51.18h1.8v1.8h-1.8zM365.02 52.30h1.8v1.8h-1.8zM214.55 54.90h1.8v1.8h-1.8zM225.35 53.99h1.8v1.8h-1.8zM232.49 54.15h1.8v1.8h-1.8zM233.71 53.89h1.8v1.8h-1.8zM235.24 54.92h1.8v1.8h-1.8zM248.59 54.23h1.8v1.8h-1.8zM252.68 53.35h1.8v1.8h-1.8zM257.59 53.70h1.8v1.8h-1.8zM259.23 54.89h1.8v1.8h-1.8zM263.81 54.27h1.8v1.8h-1.8zM265.16 54.90h1.8v1.8h-1.8zM268.10 54.97h1.8v1.8h-1.8zM271.51 53.69h1.8v1.8h-1.8zM278.78 53.81h1.8v1.8h-1.8zM279.44 54.86h1.8v1.8h-1.8zM284.36 53.48h1.8v1.8h-1.8zM287.31 54.55h1.8v1.8h-1.8zM290.90 54.84h1.8v1.8h-1.8zM294.49 54.98h1.8v1.8h-1.8zM295.26 53.55h1.8v1.8h-1.8zM298.52 53.49h1.8v1.8h-1.8zM299.57 54.43h1.8v1.8h-1.8zM304.42 54.87h1.8v1.8h-1.8zM307.70 54.95h1.8v1.8h-1.8zM312.38 53.28h1.8v1.8h-1.8zM316.16 54.16h1.8v1.8h-1.8zM318.30 53.67h1.8v1.8h-1.8zM320.71 53.27h1.8v1.8h-1.8zM322.61 53.59h1.8v1.8h-1.8zM324.20 53.47h1.8v1.8h-1.8zM330.02 54.60h1.8v1.8h-1.8zM332.96 54.10h1.8v1.8h-1.8zM334.21 54.39h1.8v1.8h-1.8zM336.42 54.67h1.8v1.8h-1.8zM350.66 53.43h1.8v1.8h-1.8zM353.98 54.65h1.8v1.8h-1.8zM360.08 53.54h1.8v1.8h-1.8zM366.29 54.53h1.8v1.8h-1.8zM371.40 53.14h1.8v1.8h-1.8zM384.91 54.24h1.8v1.8h-1.8zM391.72 53.18h1.8v1.8h-1.8zM210.28 55.28h1.8v1.8h-1.8zM213.61 55.42h1.8v1.8h-1.8zM221.92 55.83h1.8v1.8h-1.8zM225.04 55.18h1.8v1.8h-1.8zM232.01 56.59h1.8v1.8h-1.8zM233.58 56.88h1.8v1.8h-1.8zM235.89 55.70h1.8v1.8h-1.8zM239.17 57.09h1.8v1.8h-1.8zM245.61 56.20h1.8v1.8h-1.8zM248.02 56.96h1.8v1.8h-1.8zM249.77 57.06h1.8v1.8h-1.8zM253.91 56.40h1.8v1.8h-1.8zM255.79 56.49h1.8v1.8h-1.8zM263.89 56.79h1.8v1.8h-1.8zM266.66 55.53h1.8v1.8h-1.8zM267.47 56.20h1.8v1.8h-1.8zM269.51 55.53h1.8v1.8h-1.8zM271.72 55.99h1.8v1.8h-1.8zM279.87 55.25h1.8v1.8h-1.8zM283.65 55.14h1.8v1.8h-1.8zM285.62 55.89h1.8v1.8h-1.8zM291.82 55.41h1.8v1.8h-1.8zM296.63 56.55h1.8v1.8h-1.8zM299.74 55.87h1.8v1.8h-1.8zM302.86 55.75h1.8v1.8h-1.8zM305.21 55.89h1.8v1.8h-1.8zM307.18 55.40h1.8v1.8h-1.8zM311.72 55.95h1.8v1.8h-1.8zM313.37 56.51h1.8v1.8h-1.8zM316.55 56.43h1.8v1.8h-1.8zM317.51 55.66h1.8v1.8h-1.8zM321.87 56.83h1.8v1.8h-1.8zM323.68 55.79h1.8v1.8h-1.8zM325.18 55.15h1.8v1.8h-1.8zM336.44 56.94h1.8v1.8h-1.8zM338.48 56.43h1.8v1.8h-1.8zM344.37 55.28h1.8v1.8h-1.8zM345.88 55.22h1.8v1.8h-1.8zM347.76 56.09h1.8v1.8h-1.8zM349.42 55.90h1.8v1.8h-1.8zM354.43 55.58h1.8v1.8h-1.8zM355.78 55.94h1.8v1.8h-1.8zM358.27 56.50h1.8v1.8h-1.8zM363.88 55.83h1.8v1.8h-1.8zM365.91 55.21h1.8v1.8h-1.8zM375.15 55.79h1.8v1.8h-1.8zM386.04 56.33h1.8v1.8h-1.8zM216.76 58.86h1.8v1.8h-1.8zM221.37 58.11h1.8v1.8h-1.8zM223.82 59.05h1.8v1.8h-1.8zM225.48 57.56h1.8v1.8h-1.8zM229.10 58.19h1.8v1.8h-1.8zM234.09 58.40h1.8v1.8h-1.8zM245.79 58.87h1.8v1.8h-1.8zM248.53 58.49h1.8v1.8h-1.8zM256.34 58.08h1.8v1.8h-1.8zM257.84 57.67h1.8v1.8h-1.8zM261.57 57.60h1.8v1.8h-1.8zM263.46 58.13h1.8v1.8h-1.8zM265.23 57.24h1.8v1.8h-1.8zM268.51 57.33h1.8v1.8h-1.8zM270.64 58.06h1.8v1.8h-1.8zM272.83 58.84h1.8v1.8h-1.8zM273.61 58.11h1.8v1.8h-1.8zM278.53 57.60h1.8v1.8h-1.8zM281.77 58.62h1.8v1.8h-1.8zM287.94 58.51h1.8v1.8h-1.8zM290.76 58.70h1.8v1.8h-1.8zM291.85 58.44h1.8v1.8h-1.8zM293.47 57.13h1.8v1.8h-1.8zM296.98 59.04h1.8v1.8h-1.8zM298.48 57.94h1.8v1.8h-1.8zM299.89 58.97h1.8v1.8h-1.8zM304.53 57.34h1.8v1.8h-1.8zM305.67 58.56h1.8v1.8h-1.8zM309.76 57.15h1.8v1.8h-1.8zM312.07 57.85h1.8v1.8h-1.8zM314.70 58.78h1.8v1.8h-1.8zM315.88 58.34h1.8v1.8h-1.8zM322.49 58.19h1.8v1.8h-1.8zM325.45 57.31h1.8v1.8h-1.8zM330.08 57.34h1.8v1.8h-1.8zM331.14 58.23h1.8v1.8h-1.8zM334.35 57.65h1.8v1.8h-1.8zM336.06 57.83h1.8v1.8h-1.8zM337.20 57.23h1.8v1.8h-1.8zM341.26 57.46h1.8v1.8h-1.8zM345.09 57.50h1.8v1.8h-1.8zM347.93 58.71h1.8v1.8h-1.8zM349.22 58.20h1.8v1.8h-1.8zM356.98 58.83h1.8v1.8h-1.8zM360.77 58.55h1.8v1.8h-1.8zM361.15 57.44h1.8v1.8h-1.8zM363.25 57.82h1.8v1.8h-1.8zM368.13 57.12h1.8v1.8h-1.8zM371.02 57.12h1.8v1.8h-1.8zM391.00 57.90h1.8v1.8h-1.8zM208.25 59.55h1.8v1.8h-1.8zM212.41 60.72h1.8v1.8h-1.8zM214.38 59.81h1.8v1.8h-1.8zM216.91 59.74h1.8v1.8h-1.8zM217.77 60.58h1.8v1.8h-1.8zM220.59 60.19h1.8v1.8h-1.8zM223.31 59.39h1.8v1.8h-1.8zM225.96 59.12h1.8v1.8h-1.8zM229.74 60.17h1.8v1.8h-1.8zM234.86 59.74h1.8v1.8h-1.8zM239.08 59.96h1.8v1.8h-1.8zM241.92 60.51h1.8v1.8h-1.8zM243.65 60.45h1.8v1.8h-1.8zM247.47 59.81h1.8v1.8h-1.8zM252.37 59.86h1.8v1.8h-1.8zM256.33 60.88h1.8v1.8h-1.8zM260.11 60.24h1.8v1.8h-1.8zM262.77 60.48h1.8v1.8h-1.8zM264.43 59.94h1.8v1.8h-1.8zM265.56 60.30h1.8v1.8h-1.8zM268.13 59.16h1.8v1.8h-1.8zM269.99 60.29h1.8v1.8h-1.8zM272.96 59.40h1.8v1.8h-1.8zM275.09 60.58h1.8v1.8h-1.8zM276.57 61.08h1.8v1.8h-1.8zM278.83 59.35h1.8v1.8h-1.8zM281.57 60.78h1.8v1.8h-1.8zM284.98 60.76h1.8v1.8h-1.8zM289.09 59.23h1.8v1.8h-1.8zM291.60 60.71h1.8v1.8h-1.8zM294.17 60.83h1.8v1.8h-1.8zM295.66 60.39h1.8v1.8h-1.8zM298.21 60.67h1.8v1.8h-1.8zM299.58 60.70h1.8v1.8h-1.8zM306.91 60.69h1.8v1.8h-1.8zM307.83 59.30h1.8v1.8h-1.8zM309.79 60.83h1.8v1.8h-1.8zM313.46 59.88h1.8v1.8h-1.8zM318.90 59.24h1.8v1.8h-1.8zM322.36 60.85h1.8v1.8h-1.8zM326.44 59.96h1.8v1.8h-1.8zM327.78 59.73h1.8v1.8h-1.8zM329.66 60.31h1.8v1.8h-1.8zM333.36 60.49h1.8v1.8h-1.8zM335.36 59.33h1.8v1.8h-1.8zM339.82 59.49h1.8v1.8h-1.8zM347.72 59.92h1.8v1.8h-1.8zM350.36 59.95h1.8v1.8h-1.8zM354.01 60.11h1.8v1.8h-1.8zM358.51 59.57h1.8v1.8h-1.8zM362.85 59.67h1.8v1.8h-1.8zM379.94 59.66h1.8v1.8h-1.8zM206.89 61.60h1.8v1.8h-1.8zM207.78 62.74h1.8v1.8h-1.8zM216.89 61.28h1.8v1.8h-1.8zM217.85 62.55h1.8v1.8h-1.8zM222.90 63.00h1.8v1.8h-1.8zM224.37 62.04h1.8v1.8h-1.8zM226.03 61.73h1.8v1.8h-1.8zM238.76 62.40h1.8v1.8h-1.8zM244.02 61.90h1.8v1.8h-1.8zM249.08 61.52h1.8v1.8h-1.8zM249.39 61.89h1.8v1.8h-1.8zM253.43 62.40h1.8v1.8h-1.8zM256.58 61.61h1.8v1.8h-1.8zM260.65 61.34h1.8v1.8h-1.8zM261.13 62.82h1.8v1.8h-1.8zM267.80 62.17h1.8v1.8h-1.8zM269.32 62.68h1.8v1.8h-1.8zM272.11 61.35h1.8v1.8h-1.8zM273.36 61.28h1.8v1.8h-1.8zM275.69 62.65h1.8v1.8h-1.8zM277.93 61.21h1.8v1.8h-1.8zM280.00 62.22h1.8v1.8h-1.8zM282.80 61.31h1.8v1.8h-1.8zM287.04 62.15h1.8v1.8h-1.8zM288.32 62.83h1.8v1.8h-1.8zM291.12 61.41h1.8v1.8h-1.8zM296.53 61.41h1.8v1.8h-1.8zM297.16 61.32h1.8v1.8h-1.8zM301.03 62.39h1.8v1.8h-1.8zM303.93 61.26h1.8v1.8h-1.8zM305.32 62.94h1.8v1.8h-1.8zM308.08 62.41h1.8v1.8h-1.8zM314.10 62.91h1.8v1.8h-1.8zM315.70 62.58h1.8v1.8h-1.8zM317.84 61.96h1.8v1.8h-1.8zM319.82 61.96h1.8v1.8h-1.8zM321.20 62.77h1.8v1.8h-1.8zM324.16 62.20h1.8v1.8h-1.8zM325.55 61.30h1.8v1.8h-1.8zM327.73 62.07h1.8v1.8h-1.8zM330.60 62.07h1.8v1.8h-1.8zM331.91 63.03h1.8v1.8h-1.8zM334.29 63.02h1.8v1.8h-1.8zM336.30 61.84h1.8v1.8h-1.8zM338.32 62.28h1.8v1.8h-1.8zM340.10 62.13h1.8v1.8h-1.8zM343.29 61.60h1.8v1.8h-1.8zM346.69 61.95h1.8v1.8h-1.8zM349.67 62.46h1.8v1.8h-1.8zM353.07 62.76h1.8v1.8h-1.8zM353.73 62.74h1.8v1.8h-1.8zM360.63 61.20h1.8v1.8h-1.8zM370.97 62.61h1.8v1.8h-1.8zM374.57 61.94h1.8v1.8h-1.8zM382.66 61.98h1.8v1.8h-1.8zM391.74 62.57h1.8v1.8h-1.8zM393.33 62.77h1.8v1.8h-1.8zM209.34 63.72h1.8v1.8h-1.8zM217.93 64.17h1.8v1.8h-1.8zM222.85 64.04h1.8v1.8h-1.8zM223.96 63.86h1.8v1.8h-1.8zM230.48 63.88h1.8v1.8h-1.8zM234.58 63.43h1.8v1.8h-1.8zM237.79 63.43h1.8v1.8h-1.8zM240.28 64.14h1.8v1.8h-1.8zM242.25 64.78h1.8v1.8h-1.8zM244.27 64.06h1.8v1.8h-1.8zM248.49 63.57h1.8v1.8h-1.8zM250.56 64.25h1.8v1.8h-1.8zM251.23 64.75h1.8v1.8h-1.8zM254.53 63.97h1.8v1.8h-1.8zM256.22 65.05h1.8v1.8h-1.8zM260.07 63.56h1.8v1.8h-1.8zM261.30 63.71h1.8v1.8h-1.8zM263.17 64.50h1.8v1.8h-1.8zM266.20 63.77h1.8v1.8h-1.8zM269.00 64.63h1.8v1.8h-1.8zM269.30 64.67h1.8v1.8h-1.8zM271.50 64.17h1.8v1.8h-1.8zM273.34 64.63h1.8v1.8h-1.8zM276.90 64.95h1.8v1.8h-1.8zM277.83 65.00h1.8v1.8h-1.8zM279.68 64.82h1.8v1.8h-1.8zM281.63 63.60h1.8v1.8h-1.8zM284.17 63.61h1.8v1.8h-1.8zM285.61 63.36h1.8v1.8h-1.8zM287.65 63.67h1.8v1.8h-1.8zM290.12 64.85h1.8v1.8h-1.8zM292.82 64.81h1.8v1.8h-1.8zM294.19 64.57h1.8v1.8h-1.8zM296.42 64.94h1.8v1.8h-1.8zM297.62 63.21h1.8v1.8h-1.8zM302.67 63.57h1.8v1.8h-1.8zM303.84 64.56h1.8v1.8h-1.8zM308.23 63.80h1.8v1.8h-1.8zM311.00 63.32h1.8v1.8h-1.8zM313.24 64.90h1.8v1.8h-1.8zM316.23 63.34h1.8v1.8h-1.8zM320.84 63.22h1.8v1.8h-1.8zM321.24 63.16h1.8v1.8h-1.8zM325.07 64.47h1.8v1.8h-1.8zM328.14 63.25h1.8v1.8h-1.8zM329.47 64.15h1.8v1.8h-1.8zM332.10 63.50h1.8v1.8h-1.8zM333.93 64.07h1.8v1.8h-1.8zM336.07 64.22h1.8v1.8h-1.8zM339.37 63.70h1.8v1.8h-1.8zM342.50 64.98h1.8v1.8h-1.8zM354.08 64.28h1.8v1.8h-1.8zM364.14 65.02h1.8v1.8h-1.8zM365.32 64.84h1.8v1.8h-1.8zM369.16 64.76h1.8v1.8h-1.8zM381.24 64.69h1.8v1.8h-1.8zM394.64 63.62h1.8v1.8h-1.8zM210.45 66.01h1.8v1.8h-1.8zM212.86 65.45h1.8v1.8h-1.8zM213.61 66.06h1.8v1.8h-1.8zM217.58 66.41h1.8v1.8h-1.8zM220.15 65.61h1.8v1.8h-1.8zM223.56 65.70h1.8v1.8h-1.8zM226.55 66.45h1.8v1.8h-1.8zM229.26 66.63h1.8v1.8h-1.8zM231.54 65.93h1.8v1.8h-1.8zM235.81 66.92h1.8v1.8h-1.8zM239.37 66.68h1.8v1.8h-1.8zM244.68 65.86h1.8v1.8h-1.8zM246.29 66.58h1.8v1.8h-1.8zM248.74 65.13h1.8v1.8h-1.8zM249.86 65.23h1.8v1.8h-1.8zM253.51 66.86h1.8v1.8h-1.8zM260.96 65.38h1.8v1.8h-1.8zM262.99 65.49h1.8v1.8h-1.8zM264.46 66.87h1.8v1.8h-1.8zM267.00 66.01h1.8v1.8h-1.8zM267.34 65.65h1.8v1.8h-1.8zM271.47 65.80h1.8v1.8h-1.8zM273.71 65.47h1.8v1.8h-1.8zM276.15 66.18h1.8v1.8h-1.8zM278.62 66.15h1.8v1.8h-1.8zM281.55 65.25h1.8v1.8h-1.8zM284.62 66.95h1.8v1.8h-1.8zM285.42 65.76h1.8v1.8h-1.8zM287.69 66.69h1.8v1.8h-1.8zM292.31 66.79h1.8v1.8h-1.8zM293.48 66.99h1.8v1.8h-1.8zM298.63 65.90h1.8v1.8h-1.8zM299.43 65.45h1.8v1.8h-1.8zM301.52 65.14h1.8v1.8h-1.8zM304.70 66.10h1.8v1.8h-1.8zM306.03 65.47h1.8v1.8h-1.8zM307.71 65.18h1.8v1.8h-1.8zM310.34 65.84h1.8v1.8h-1.8zM312.35 65.73h1.8v1.8h-1.8zM314.87 66.26h1.8v1.8h-1.8zM316.18 66.02h1.8v1.8h-1.8zM318.93 65.57h1.8v1.8h-1.8zM326.12 67.07h1.8v1.8h-1.8zM327.44 66.55h1.8v1.8h-1.8zM330.27 65.42h1.8v1.8h-1.8zM333.29 66.47h1.8v1.8h-1.8zM336.22 66.09h1.8v1.8h-1.8zM339.86 65.10h1.8v1.8h-1.8zM341.64 66.25h1.8v1.8h-1.8zM344.02 65.28h1.8v1.8h-1.8zM346.06 66.38h1.8v1.8h-1.8zM349.99 65.27h1.8v1.8h-1.8zM354.76 66.70h1.8v1.8h-1.8zM356.91 66.11h1.8v1.8h-1.8zM358.21 66.99h1.8v1.8h-1.8zM360.06 65.68h1.8v1.8h-1.8zM365.49 65.53h1.8v1.8h-1.8zM386.73 65.71h1.8v1.8h-1.8zM392.12 65.79h1.8v1.8h-1.8zM214.43 67.32h1.8v1.8h-1.8zM219.47 68.49h1.8v1.8h-1.8zM228.55 67.22h1.8v1.8h-1.8zM238.99 68.38h1.8v1.8h-1.8zM239.87 67.81h1.8v1.8h-1.8zM241.42 68.69h1.8v1.8h-1.8zM244.41 68.65h1.8v1.8h-1.8zM247.73 67.65h1.8v1.8h-1.8zM250.40 68.47h1.8v1.8h-1.8zM254.95 68.92h1.8v1.8h-1.8zM257.00 68.34h1.8v1.8h-1.8zM259.77 67.66h1.8v1.8h-1.8zM262.08 67.17h1.8v1.8h-1.8zM264.17 68.05h1.8v1.8h-1.8zM265.60 67.50h1.8v1.8h-1.8zM267.58 67.76h1.8v1.8h-1.8zM269.20 67.81h1.8v1.8h-1.8zM273.00 68.38h1.8v1.8h-1.8zM273.91 67.57h1.8v1.8h-1.8zM277.02 67.34h1.8v1.8h-1.8zM278.47 68.62h1.8v1.8h-1.8zM280.38 68.98h1.8v1.8h-1.8zM281.60 68.18h1.8v1.8h-1.8zM285.48 68.63h1.8v1.8h-1.8zM287.40 68.20h1.8v1.8h-1.8zM290.54 68.55h1.8v1.8h-1.8zM292.63 68.40h1.8v1.8h-1.8zM294.01 67.96h1.8v1.8h-1.8zM296.05 69.01h1.8v1.8h-1.8zM297.21 67.24h1.8v1.8h-1.8zM300.49 67.98h1.8v1.8h-1.8zM301.95 68.25h1.8v1.8h-1.8zM303.91 68.40h1.8v1.8h-1.8zM306.33 67.19h1.8v1.8h-1.8zM307.36 67.21h1.8v1.8h-1.8zM309.13 67.25h1.8v1.8h-1.8zM312.04 67.31h1.8v1.8h-1.8zM316.07 68.28h1.8v1.8h-1.8zM319.07 67.34h1.8v1.8h-1.8zM319.54 68.83h1.8v1.8h-1.8zM321.92 67.90h1.8v1.8h-1.8zM326.68 68.52h1.8v1.8h-1.8zM327.83 67.97h1.8v1.8h-1.8zM329.73 68.35h1.8v1.8h-1.8zM331.71 68.65h1.8v1.8h-1.8zM334.05 68.86h1.8v1.8h-1.8zM335.85 68.90h1.8v1.8h-1.8zM342.44 68.58h1.8v1.8h-1.8zM344.55 69.00h1.8v1.8h-1.8zM346.44 67.97h1.8v1.8h-1.8zM350.64 68.18h1.8v1.8h-1.8zM354.52 67.13h1.8v1.8h-1.8zM356.63 67.62h1.8v1.8h-1.8zM359.90 69.09h1.8v1.8h-1.8zM362.93 67.22h1.8v1.8h-1.8zM370.28 68.52h1.8v1.8h-1.8zM378.51 68.22h1.8v1.8h-1.8zM384.66 67.75h1.8v1.8h-1.8zM205.43 70.35h1.8v1.8h-1.8zM212.71 69.94h1.8v1.8h-1.8zM214.31 70.02h1.8v1.8h-1.8zM224.62 69.25h1.8v1.8h-1.8zM226.48 70.48h1.8v1.8h-1.8zM229.65 69.82h1.8v1.8h-1.8zM231.15 69.85h1.8v1.8h-1.8zM235.72 70.85h1.8v1.8h-1.8zM239.46 69.34h1.8v1.8h-1.8zM242.69 70.58h1.8v1.8h-1.8zM244.08 70.49h1.8v1.8h-1.8zM246.74 70.82h1.8v1.8h-1.8zM248.51 70.50h1.8v1.8h-1.8zM250.86 69.54h1.8v1.8h-1.8zM251.73 69.98h1.8v1.8h-1.8zM256.32 71.07h1.8v1.8h-1.8zM257.55 70.34h1.8v1.8h-1.8zM261.03 69.78h1.8v1.8h-1.8zM261.96 70.76h1.8v1.8h-1.8zM265.44 69.81h1.8v1.8h-1.8zM267.53 70.87h1.8v1.8h-1.8zM269.55 69.83h1.8v1.8h-1.8zM272.54 69.19h1.8v1.8h-1.8zM273.23 70.78h1.8v1.8h-1.8zM276.27 69.29h1.8v1.8h-1.8zM277.81 71.07h1.8v1.8h-1.8zM280.82 69.23h1.8v1.8h-1.8zM281.14 70.49h1.8v1.8h-1.8zM283.65 70.43h1.8v1.8h-1.8zM285.74 70.03h1.8v1.8h-1.8zM288.22 69.81h1.8v1.8h-1.8zM289.60 69.68h1.8v1.8h-1.8zM291.13 69.72h1.8v1.8h-1.8zM293.64 69.33h1.8v1.8h-1.8zM296.04 70.12h1.8v1.8h-1.8zM298.87 70.61h1.8v1.8h-1.8zM300.42 70.48h1.8v1.8h-1.8zM301.93 69.88h1.8v1.8h-1.8zM304.04 70.16h1.8v1.8h-1.8zM306.68 70.89h1.8v1.8h-1.8zM307.14 69.70h1.8v1.8h-1.8zM310.69 70.34h1.8v1.8h-1.8zM311.48 70.84h1.8v1.8h-1.8zM314.47 70.48h1.8v1.8h-1.8zM316.01 69.89h1.8v1.8h-1.8zM318.86 71.08h1.8v1.8h-1.8zM321.25 69.59h1.8v1.8h-1.8zM326.13 69.72h1.8v1.8h-1.8zM331.08 69.25h1.8v1.8h-1.8zM333.40 69.88h1.8v1.8h-1.8zM335.32 70.22h1.8v1.8h-1.8zM340.62 70.28h1.8v1.8h-1.8zM341.45 70.03h1.8v1.8h-1.8zM347.99 70.19h1.8v1.8h-1.8zM350.26 70.36h1.8v1.8h-1.8zM351.54 70.41h1.8v1.8h-1.8zM353.25 70.62h1.8v1.8h-1.8zM357.02 70.22h1.8v1.8h-1.8zM358.37 69.62h1.8v1.8h-1.8zM365.17 70.70h1.8v1.8h-1.8zM367.50 69.16h1.8v1.8h-1.8zM370.05 71.02h1.8v1.8h-1.8zM371.62 70.76h1.8v1.8h-1.8zM374.37 70.33h1.8v1.8h-1.8zM378.23 69.87h1.8v1.8h-1.8zM382.53 69.47h1.8v1.8h-1.8zM387.66 70.94h1.8v1.8h-1.8zM391.47 69.57h1.8v1.8h-1.8zM216.53 72.09h1.8v1.8h-1.8zM218.08 71.87h1.8v1.8h-1.8zM221.16 73.07h1.8v1.8h-1.8zM223.76 71.40h1.8v1.8h-1.8zM230.10 72.10h1.8v1.8h-1.8zM233.58 71.48h1.8v1.8h-1.8zM238.83 71.17h1.8v1.8h-1.8zM240.04 72.79h1.8v1.8h-1.8zM250.75 71.40h1.8v1.8h-1.8zM251.18 71.16h1.8v1.8h-1.8zM255.27 71.19h1.8v1.8h-1.8zM260.93 71.17h1.8v1.8h-1.8zM261.67 71.48h1.8v1.8h-1.8zM263.50 72.38h1.8v1.8h-1.8zM265.44 72.17h1.8v1.8h-1.8zM267.40 72.24h1.8v1.8h-1.8zM269.88 72.05h1.8v1.8h-1.8zM272.33 71.49h1.8v1.8h-1.8zM273.12 72.88h1.8v1.8h-1.8zM275.88 72.18h1.8v1.8h-1.8zM279.87 72.52h1.8v1.8h-1.8zM282.51 72.92h1.8v1.8h-1.8zM283.67 71.69h1.8v1.8h-1.8zM286.67 72.50h1.8v1.8h-1.8zM289.89 72.81h1.8v1.8h-1.8zM291.33 73.06h1.8v1.8h-1.8zM294.83 71.82h1.8v1.8h-1.8zM297.02 72.90h1.8v1.8h-1.8zM298.88 73.10h1.8v1.8h-1.8zM300.41 73.02h1.8v1.8h-1.8zM301.91 72.23h1.8v1.8h-1.8zM304.66 71.22h1.8v1.8h-1.8zM305.66 71.75h1.8v1.8h-1.8zM307.48 72.00h1.8v1.8h-1.8zM311.07 71.63h1.8v1.8h-1.8zM312.49 71.48h1.8v1.8h-1.8zM313.50 72.21h1.8v1.8h-1.8zM315.10 71.10h1.8v1.8h-1.8zM317.76 71.65h1.8v1.8h-1.8zM321.23 72.53h1.8v1.8h-1.8zM324.06 72.55h1.8v1.8h-1.8zM329.74 71.89h1.8v1.8h-1.8zM332.58 72.03h1.8v1.8h-1.8zM333.40 72.67h1.8v1.8h-1.8zM338.33 71.42h1.8v1.8h-1.8zM339.93 71.47h1.8v1.8h-1.8zM344.45 73.04h1.8v1.8h-1.8zM345.30 71.17h1.8v1.8h-1.8zM348.75 72.47h1.8v1.8h-1.8zM350.81 71.84h1.8v1.8h-1.8zM352.38 71.15h1.8v1.8h-1.8zM353.16 71.42h1.8v1.8h-1.8zM356.16 71.36h1.8v1.8h-1.8zM361.34 72.44h1.8v1.8h-1.8zM378.65 72.37h1.8v1.8h-1.8zM382.05 71.63h1.8v1.8h-1.8zM389.36 72.31h1.8v1.8h-1.8zM208.01 74.11h1.8v1.8h-1.8zM212.94 74.07h1.8v1.8h-1.8zM214.06 73.81h1.8v1.8h-1.8zM217.90 73.26h1.8v1.8h-1.8zM221.40 73.95h1.8v1.8h-1.8zM227.69 73.84h1.8v1.8h-1.8zM231.12 74.87h1.8v1.8h-1.8zM233.36 73.37h1.8v1.8h-1.8zM240.45 73.53h1.8v1.8h-1.8zM242.31 73.20h1.8v1.8h-1.8zM245.39 74.66h1.8v1.8h-1.8zM247.17 74.40h1.8v1.8h-1.8zM250.90 74.68h1.8v1.8h-1.8zM251.19 74.31h1.8v1.8h-1.8zM253.70 74.93h1.8v1.8h-1.8zM256.39 73.25h1.8v1.8h-1.8zM261.74 74.55h1.8v1.8h-1.8zM265.18 74.11h1.8v1.8h-1.8zM268.19 75.00h1.8v1.8h-1.8zM272.20 73.73h1.8v1.8h-1.8zM274.59 74.62h1.8v1.8h-1.8zM275.94 74.49h1.8v1.8h-1.8zM278.03 73.34h1.8v1.8h-1.8zM279.44 74.75h1.8v1.8h-1.8zM282.39 73.83h1.8v1.8h-1.8zM283.45 75.05h1.8v1.8h-1.8zM285.36 74.51h1.8v1.8h-1.8zM288.33 74.64h1.8v1.8h-1.8zM290.85 75.04h1.8v1.8h-1.8zM292.40 73.85h1.8v1.8h-1.8zM293.83 74.39h1.8v1.8h-1.8zM295.80 74.79h1.8v1.8h-1.8zM298.45 74.79h1.8v1.8h-1.8zM300.39 73.60h1.8v1.8h-1.8zM301.30 74.70h1.8v1.8h-1.8zM305.86 73.33h1.8v1.8h-1.8zM308.38 74.88h1.8v1.8h-1.8zM309.61 74.62h1.8v1.8h-1.8zM312.86 73.81h1.8v1.8h-1.8zM313.50 73.68h1.8v1.8h-1.8zM315.66 74.56h1.8v1.8h-1.8zM318.38 74.71h1.8v1.8h-1.8zM319.48 73.34h1.8v1.8h-1.8zM322.68 74.31h1.8v1.8h-1.8zM324.01 74.30h1.8v1.8h-1.8zM325.17 73.94h1.8v1.8h-1.8zM329.04 73.82h1.8v1.8h-1.8zM333.35 74.72h1.8v1.8h-1.8zM336.21 73.29h1.8v1.8h-1.8zM337.92 73.41h1.8v1.8h-1.8zM342.89 75.01h1.8v1.8h-1.8zM348.66 74.44h1.8v1.8h-1.8zM350.16 73.93h1.8v1.8h-1.8zM352.53 74.48h1.8v1.8h-1.8zM359.39 73.19h1.8v1.8h-1.8zM363.02 73.72h1.8v1.8h-1.8zM370.66 73.76h1.8v1.8h-1.8zM376.20 73.29h1.8v1.8h-1.8zM379.63 74.64h1.8v1.8h-1.8zM390.02 73.61h1.8v1.8h-1.8zM393.38 73.50h1.8v1.8h-1.8zM211.07 76.77h1.8v1.8h-1.8zM211.42 76.75h1.8v1.8h-1.8zM216.61 76.74h1.8v1.8h-1.8zM219.34 75.43h1.8v1.8h-1.8zM222.90 76.92h1.8v1.8h-1.8zM225.81 75.58h1.8v1.8h-1.8zM234.01 76.04h1.8v1.8h-1.8zM236.01 76.47h1.8v1.8h-1.8zM240.23 75.39h1.8v1.8h-1.8zM241.87 75.82h1.8v1.8h-1.8zM243.26 75.95h1.8v1.8h-1.8zM249.73 75.84h1.8v1.8h-1.8zM251.37 76.28h1.8v1.8h-1.8zM255.45 75.31h1.8v1.8h-1.8zM258.63 75.56h1.8v1.8h-1.8zM263.48 75.73h1.8v1.8h-1.8zM267.71 76.00h1.8v1.8h-1.8zM270.04 76.69h1.8v1.8h-1.8zM272.72 76.94h1.8v1.8h-1.8zM275.02 76.98h1.8v1.8h-1.8zM277.08 75.50h1.8v1.8h-1.8zM279.71 75.98h1.8v1.8h-1.8zM283.51 76.90h1.8v1.8h-1.8zM287.20 75.67h1.8v1.8h-1.8zM289.94 76.99h1.8v1.8h-1.8zM292.74 75.24h1.8v1.8h-1.8zM294.56 75.78h1.8v1.8h-1.8zM295.23 75.20h1.8v1.8h-1.8zM298.19 75.90h1.8v1.8h-1.8zM299.68 75.13h1.8v1.8h-1.8zM301.77 76.08h1.8v1.8h-1.8zM303.64 75.20h1.8v1.8h-1.8zM305.70 75.33h1.8v1.8h-1.8zM308.06 75.14h1.8v1.8h-1.8zM311.99 76.15h1.8v1.8h-1.8zM313.30 76.67h1.8v1.8h-1.8zM316.09 75.79h1.8v1.8h-1.8zM320.68 76.77h1.8v1.8h-1.8zM326.02 76.17h1.8v1.8h-1.8zM328.15 76.74h1.8v1.8h-1.8zM332.60 76.33h1.8v1.8h-1.8zM334.92 75.20h1.8v1.8h-1.8zM335.85 77.00h1.8v1.8h-1.8zM338.23 75.39h1.8v1.8h-1.8zM342.57 75.71h1.8v1.8h-1.8zM345.55 76.57h1.8v1.8h-1.8zM351.26 76.52h1.8v1.8h-1.8zM356.97 76.16h1.8v1.8h-1.8zM358.06 75.78h1.8v1.8h-1.8zM360.87 76.97h1.8v1.8h-1.8zM361.99 75.65h1.8v1.8h-1.8zM365.77 75.92h1.8v1.8h-1.8zM205.14 77.28h1.8v1.8h-1.8zM208.56 78.78h1.8v1.8h-1.8zM209.57 77.58h1.8v1.8h-1.8zM215.30 79.03h1.8v1.8h-1.8zM230.15 78.42h1.8v1.8h-1.8zM232.38 77.39h1.8v1.8h-1.8zM235.55 79.02h1.8v1.8h-1.8zM250.56 78.77h1.8v1.8h-1.8zM253.22 78.56h1.8v1.8h-1.8zM256.89 79.08h1.8v1.8h-1.8zM258.45 78.43h1.8v1.8h-1.8zM262.38 77.24h1.8v1.8h-1.8zM269.51 78.00h1.8v1.8h-1.8zM273.32 77.11h1.8v1.8h-1.8zM275.59 77.55h1.8v1.8h-1.8zM277.93 78.49h1.8v1.8h-1.8zM284.84 78.32h1.8v1.8h-1.8zM287.81 77.78h1.8v1.8h-1.8zM290.43 77.21h1.8v1.8h-1.8zM298.72 79.02h1.8v1.8h-1.8zM303.13 78.33h1.8v1.8h-1.8zM306.83 78.32h1.8v1.8h-1.8zM307.11 78.76h1.8v1.8h-1.8zM311.07 78.29h1.8v1.8h-1.8zM318.89 77.89h1.8v1.8h-1.8zM319.75 77.80h1.8v1.8h-1.8zM323.65 78.48h1.8v1.8h-1.8zM325.71 77.89h1.8v1.8h-1.8zM328.30 77.95h1.8v1.8h-1.8zM333.05 77.49h1.8v1.8h-1.8zM333.55 77.13h1.8v1.8h-1.8zM336.89 77.68h1.8v1.8h-1.8zM338.15 77.63h1.8v1.8h-1.8zM339.23 77.80h1.8v1.8h-1.8zM342.73 78.64h1.8v1.8h-1.8zM351.36 78.60h1.8v1.8h-1.8zM360.23 78.35h1.8v1.8h-1.8zM365.04 78.12h1.8v1.8h-1.8zM367.06 77.87h1.8v1.8h-1.8zM368.44 77.62h1.8v1.8h-1.8zM369.71 78.31h1.8v1.8h-1.8zM388.26 77.25h1.8v1.8h-1.8zM391.00 77.35h1.8v1.8h-1.8zM206.69 79.22h1.8v1.8h-1.8zM216.50 79.18h1.8v1.8h-1.8zM224.54 80.50h1.8v1.8h-1.8zM226.64 80.26h1.8v1.8h-1.8zM231.67 80.88h1.8v1.8h-1.8zM234.64 79.83h1.8v1.8h-1.8zM235.10 81.03h1.8v1.8h-1.8zM243.43 79.20h1.8v1.8h-1.8zM251.57 79.54h1.8v1.8h-1.8zM253.16 80.09h1.8v1.8h-1.8zM255.84 81.00h1.8v1.8h-1.8zM258.75 80.16h1.8v1.8h-1.8zM259.16 80.32h1.8v1.8h-1.8zM264.50 79.56h1.8v1.8h-1.8zM271.41 81.03h1.8v1.8h-1.8zM277.20 79.84h1.8v1.8h-1.8zM281.69 79.18h1.8v1.8h-1.8zM285.26 79.81h1.8v1.8h-1.8zM287.97 80.33h1.8v1.8h-1.8zM292.17 79.21h1.8v1.8h-1.8zM294.72 79.62h1.8v1.8h-1.8zM297.89 80.68h1.8v1.8h-1.8zM300.21 80.17h1.8v1.8h-1.8zM307.50 80.06h1.8v1.8h-1.8zM310.21 79.28h1.8v1.8h-1.8zM313.20 79.34h1.8v1.8h-1.8zM323.07 79.44h1.8v1.8h-1.8zM327.11 79.35h1.8v1.8h-1.8zM330.71 80.31h1.8v1.8h-1.8zM331.33 80.38h1.8v1.8h-1.8zM333.37 80.29h1.8v1.8h-1.8zM341.71 79.39h1.8v1.8h-1.8zM346.84 80.46h1.8v1.8h-1.8zM359.79 79.21h1.8v1.8h-1.8zM386.45 81.01h1.8v1.8h-1.8zM390.24 79.23h1.8v1.8h-1.8zM393.93 80.74h1.8v1.8h-1.8zM214.68 82.24h1.8v1.8h-1.8zM218.02 81.23h1.8v1.8h-1.8zM219.26 81.95h1.8v1.8h-1.8zM222.75 82.32h1.8v1.8h-1.8zM227.65 82.78h1.8v1.8h-1.8zM235.50 81.96h1.8v1.8h-1.8zM243.19 82.22h1.8v1.8h-1.8zM249.51 81.13h1.8v1.8h-1.8zM252.71 82.84h1.8v1.8h-1.8zM253.13 82.25h1.8v1.8h-1.8zM256.33 82.92h1.8v1.8h-1.8zM260.31 81.68h1.8v1.8h-1.8zM264.84 82.46h1.8v1.8h-1.8zM269.01 82.26h1.8v1.8h-1.8zM270.39 81.72h1.8v1.8h-1.8zM271.18 82.32h1.8v1.8h-1.8zM273.30 82.65h1.8v1.8h-1.8zM276.61 81.65h1.8v1.8h-1.8zM278.97 82.76h1.8v1.8h-1.8zM291.86 82.24h1.8v1.8h-1.8zM294.38 82.83h1.8v1.8h-1.8zM297.16 81.83h1.8v1.8h-1.8zM300.79 82.19h1.8v1.8h-1.8zM313.35 81.98h1.8v1.8h-1.8zM320.25 82.14h1.8v1.8h-1.8zM324.68 81.27h1.8v1.8h-1.8zM325.66 81.51h1.8v1.8h-1.8zM327.26 82.15h1.8v1.8h-1.8zM330.39 82.30h1.8v1.8h-1.8zM338.03 82.48h1.8v1.8h-1.8zM340.57 82.27h1.8v1.8h-1.8zM349.85 81.96h1.8v1.8h-1.8zM357.01 83.06h1.8v1.8h-1.8zM365.13 82.28h1.8v1.8h-1.8zM388.45 82.51h1.8v1.8h-1.8zM206.12 83.82h1.8v1.8h-1.8zM208.88 83.45h1.8v1.8h-1.8zM212.13 85.09h1.8v1.8h-1.8zM214.82 83.11h1.8v1.8h-1.8zM225.81 83.98h1.8v1.8h-1.8zM230.18 84.04h1.8v1.8h-1.8zM244.19 84.83h1.8v1.8h-1.8zM246.40 84.08h1.8v1.8h-1.8zM247.42 83.56h1.8v1.8h-1.8zM256.34 84.05h1.8v1.8h-1.8zM263.05 84.19h1.8v1.8h-1.8zM263.61 84.53h1.8v1.8h-1.8zM270.82 83.63h1.8v1.8h-1.8zM291.08 83.13h1.8v1.8h-1.8zM292.74 83.65h1.8v1.8h-1.8zM293.45 84.09h1.8v1.8h-1.8zM297.43 83.13h1.8v1.8h-1.8zM299.73 84.08h1.8v1.8h-1.8zM313.84 84.06h1.8v1.8h-1.8zM316.95 84.07h1.8v1.8h-1.8zM318.08 84.71h1.8v1.8h-1.8zM320.28 83.28h1.8v1.8h-1.8zM321.47 84.11h1.8v1.8h-1.8zM326.48 84.27h1.8v1.8h-1.8zM333.09 84.01h1.8v1.8h-1.8zM335.27 84.39h1.8v1.8h-1.8zM337.17 83.27h1.8v1.8h-1.8zM341.63 84.63h1.8v1.8h-1.8zM346.46 85.09h1.8v1.8h-1.8zM360.66 83.31h1.8v1.8h-1.8zM362.11 83.47h1.8v1.8h-1.8zM384.42 84.94h1.8v1.8h-1.8zM208.06 86.12h1.8v1.8h-1.8zM210.56 85.61h1.8v1.8h-1.8zM214.29 85.96h1.8v1.8h-1.8zM224.08 85.61h1.8v1.8h-1.8zM234.36 85.34h1.8v1.8h-1.8zM235.35 85.15h1.8v1.8h-1.8zM244.57 86.43h1.8v1.8h-1.8zM246.63 85.23h1.8v1.8h-1.8zM248.66 86.63h1.8v1.8h-1.8zM250.12 86.70h1.8v1.8h-1.8zM255.24 85.48h1.8v1.8h-1.8zM287.30 86.42h1.8v1.8h-1.8zM290.32 86.20h1.8v1.8h-1.8zM295.71 86.49h1.8v1.8h-1.8zM299.73 86.00h1.8v1.8h-1.8zM322.76 85.94h1.8v1.8h-1.8zM329.66 86.05h1.8v1.8h-1.8zM334.91 87.05h1.8v1.8h-1.8zM337.14 86.86h1.8v1.8h-1.8zM339.70 86.98h1.8v1.8h-1.8zM348.11 85.29h1.8v1.8h-1.8zM359.61 85.22h1.8v1.8h-1.8zM390.99 86.03h1.8v1.8h-1.8zM221.61 87.34h1.8v1.8h-1.8zM224.15 88.58h1.8v1.8h-1.8zM248.56 87.41h1.8v1.8h-1.8zM257.90 87.29h1.8v1.8h-1.8zM283.83 87.76h1.8v1.8h-1.8zM288.61 87.25h1.8v1.8h-1.8zM298.43 87.57h1.8v1.8h-1.8zM307.72 89.02h1.8v1.8h-1.8zM312.17 88.44h1.8v1.8h-1.8zM315.76 88.55h1.8v1.8h-1.8zM323.20 87.45h1.8v1.8h-1.8zM327.67 87.33h1.8v1.8h-1.8zM330.15 88.62h1.8v1.8h-1.8zM331.29 88.56h1.8v1.8h-1.8zM333.38 88.08h1.8v1.8h-1.8zM346.74 87.88h1.8v1.8h-1.8zM349.96 88.18h1.8v1.8h-1.8zM351.25 88.97h1.8v1.8h-1.8zM366.38 87.99h1.8v1.8h-1.8zM369.69 87.33h1.8v1.8h-1.8zM385.22 87.17h1.8v1.8h-1.8zM209.97 90.32h1.8v1.8h-1.8zM220.08 89.96h1.8v1.8h-1.8zM223.58 90.53h1.8v1.8h-1.8zM226.05 91.09h1.8v1.8h-1.8zM242.04 89.64h1.8v1.8h-1.8zM254.42 90.96h1.8v1.8h-1.8zM263.49 90.69h1.8v1.8h-1.8zM268.33 90.76h1.8v1.8h-1.8zM273.00 89.46h1.8v1.8h-1.8zM277.63 89.47h1.8v1.8h-1.8zM279.18 90.39h1.8v1.8h-1.8zM285.00 89.95h1.8v1.8h-1.8zM300.56 90.60h1.8v1.8h-1.8zM304.59 89.45h1.8v1.8h-1.8zM311.83 90.57h1.8v1.8h-1.8zM313.18 89.93h1.8v1.8h-1.8zM319.26 90.77h1.8v1.8h-1.8zM326.60 89.12h1.8v1.8h-1.8zM327.74 91.01h1.8v1.8h-1.8zM329.42 90.57h1.8v1.8h-1.8zM336.81 91.04h1.8v1.8h-1.8zM342.58 90.40h1.8v1.8h-1.8zM372.30 90.34h1.8v1.8h-1.8zM210.67 92.61h1.8v1.8h-1.8zM215.66 92.03h1.8v1.8h-1.8zM221.13 92.00h1.8v1.8h-1.8zM223.16 92.31h1.8v1.8h-1.8zM230.22 92.15h1.8v1.8h-1.8zM236.07 91.83h1.8v1.8h-1.8zM250.29 92.57h1.8v1.8h-1.8zM264.35 91.36h1.8v1.8h-1.8zM265.29 92.40h1.8v1.8h-1.8zM279.32 92.84h1.8v1.8h-1.8zM285.06 91.86h1.8v1.8h-1.8zM292.05 92.39h1.8v1.8h-1.8zM294.93 91.78h1.8v1.8h-1.8zM297.26 91.27h1.8v1.8h-1.8zM308.65 92.11h1.8v1.8h-1.8zM315.39 91.26h1.8v1.8h-1.8zM324.62 91.34h1.8v1.8h-1.8zM326.95 91.54h1.8v1.8h-1.8zM336.49 91.84h1.8v1.8h-1.8zM341.95 91.81h1.8v1.8h-1.8zM348.02 91.13h1.8v1.8h-1.8zM351.38 92.12h1.8v1.8h-1.8zM364.78 92.00h1.8v1.8h-1.8zM372.92 91.54h1.8v1.8h-1.8zM376.01 93.02h1.8v1.8h-1.8zM394.49 92.84h1.8v1.8h-1.8zM225.21 94.26h1.8v1.8h-1.8zM228.85 95.02h1.8v1.8h-1.8zM231.03 94.35h1.8v1.8h-1.8zM231.87 93.82h1.8v1.8h-1.8zM235.59 93.13h1.8v1.8h-1.8zM263.94 93.33h1.8v1.8h-1.8zM268.10 94.72h1.8v1.8h-1.8zM296.10 93.72h1.8v1.8h-1.8zM301.52 94.34h1.8v1.8h-1.8zM310.48 95.05h1.8v1.8h-1.8zM312.33 94.33h1.8v1.8h-1.8zM333.52 93.56h1.8v1.8h-1.8zM355.03 93.68h1.8v1.8h-1.8zM370.35 94.58h1.8v1.8h-1.8zM206.13 97.06h1.8v1.8h-1.8zM214.85 96.65h1.8v1.8h-1.8zM223.26 96.38h1.8v1.8h-1.8zM227.48 96.02h1.8v1.8h-1.8zM235.50 96.27h1.8v1.8h-1.8zM239.28 95.73h1.8v1.8h-1.8zM245.25 96.39h1.8v1.8h-1.8zM254.33 95.83h1.8v1.8h-1.8zM265.98 95.27h1.8v1.8h-1.8zM270.50 95.81h1.8v1.8h-1.8zM272.88 95.35h1.8v1.8h-1.8zM274.14 95.21h1.8v1.8h-1.8zM280.34 95.36h1.8v1.8h-1.8zM283.66 96.00h1.8v1.8h-1.8zM296.58 95.83h1.8v1.8h-1.8zM297.48 95.94h1.8v1.8h-1.8zM316.01 95.61h1.8v1.8h-1.8zM322.25 95.18h1.8v1.8h-1.8zM328.77 96.47h1.8v1.8h-1.8zM331.48 95.73h1.8v1.8h-1.8zM341.15 95.77h1.8v1.8h-1.8zM345.80 95.36h1.8v1.8h-1.8zM357.98 95.54h1.8v1.8h-1.8zM378.19 96.07h1.8v1.8h-1.8zM391.52 97.02h1.8v1.8h-1.8zM210.97 97.70h1.8v1.8h-1.8zM227.80 97.74h1.8v1.8h-1.8zM229.90 97.10h1.8v1.8h-1.8zM237.63 98.65h1.8v1.8h-1.8zM241.95 98.26h1.8v1.8h-1.8zM243.85 98.21h1.8v1.8h-1.8zM256.93 98.19h1.8v1.8h-1.8zM258.73 98.87h1.8v1.8h-1.8zM260.86 99.02h1.8v1.8h-1.8zM280.24 98.51h1.8v1.8h-1.8zM281.14 98.89h1.8v1.8h-1.8zM294.55 98.51h1.8v1.8h-1.8zM303.92 97.68h1.8v1.8h-1.8zM321.92 98.08h1.8v1.8h-1.8zM324.90 97.85h1.8v1.8h-1.8zM328.17 97.77h1.8v1.8h-1.8zM335.20 98.48h1.8v1.8h-1.8zM347.56 98.69h1.8v1.8h-1.8zM360.21 98.53h1.8v1.8h-1.8zM369.74 98.22h1.8v1.8h-1.8zM376.18 98.83h1.8v1.8h-1.8zM225.76 283.56h1.8v1.8h-1.8zM235.51 283.30h1.8v1.8h-1.8zM245.81 284.70h1.8v1.8h-1.8zM248.56 284.30h1.8v1.8h-1.8zM251.82 285.07h1.8v1.8h-1.8zM257.10 284.28h1.8v1.8h-1.8zM265.68 283.55h1.8v1.8h-1.8zM269.33 284.11h1.8v1.8h-1.8zM280.12 283.14h1.8v1.8h-1.8zM283.33 283.34h1.8v1.8h-1.8zM289.25 283.34h1.8v1.8h-1.8zM297.50 284.86h1.8v1.8h-1.8zM299.40 284.40h1.8v1.8h-1.8zM331.99 284.84h1.8v1.8h-1.8zM348.97 283.96h1.8v1.8h-1.8zM351.74 283.71h1.8v1.8h-1.8zM213.67 285.90h1.8v1.8h-1.8zM237.16 286.51h1.8v1.8h-1.8zM242.80 286.61h1.8v1.8h-1.8zM243.41 286.42h1.8v1.8h-1.8zM248.92 285.53h1.8v1.8h-1.8zM254.50 286.20h1.8v1.8h-1.8zM262.79 285.74h1.8v1.8h-1.8zM266.88 285.14h1.8v1.8h-1.8zM272.28 285.93h1.8v1.8h-1.8zM274.78 286.09h1.8v1.8h-1.8zM277.43 285.56h1.8v1.8h-1.8zM281.14 285.86h1.8v1.8h-1.8zM290.58 285.81h1.8v1.8h-1.8zM296.04 285.95h1.8v1.8h-1.8zM313.64 287.00h1.8v1.8h-1.8zM219.84 287.27h1.8v1.8h-1.8zM231.46 288.46h1.8v1.8h-1.8zM246.09 287.60h1.8v1.8h-1.8zM262.56 287.49h1.8v1.8h-1.8zM268.83 288.19h1.8v1.8h-1.8zM272.03 287.75h1.8v1.8h-1.8zM293.25 288.18h1.8v1.8h-1.8zM307.99 288.77h1.8v1.8h-1.8zM206.12 289.66h1.8v1.8h-1.8zM209.70 289.60h1.8v1.8h-1.8zM230.61 290.94h1.8v1.8h-1.8zM234.93 289.55h1.8v1.8h-1.8zM236.33 289.79h1.8v1.8h-1.8zM238.32 290.17h1.8v1.8h-1.8zM257.26 290.01h1.8v1.8h-1.8zM263.02 289.68h1.8v1.8h-1.8zM269.60 290.37h1.8v1.8h-1.8zM271.79 289.36h1.8v1.8h-1.8zM280.97 289.31h1.8v1.8h-1.8zM284.16 289.75h1.8v1.8h-1.8zM291.57 291.07h1.8v1.8h-1.8zM295.62 289.83h1.8v1.8h-1.8zM308.14 290.25h1.8v1.8h-1.8zM319.71 289.93h1.8v1.8h-1.8zM211.88 292.49h1.8v1.8h-1.8zM228.90 292.79h1.8v1.8h-1.8zM232.65 291.18h1.8v1.8h-1.8zM236.11 291.87h1.8v1.8h-1.8zM245.50 291.58h1.8v1.8h-1.8zM247.95 292.11h1.8v1.8h-1.8zM253.69 292.14h1.8v1.8h-1.8zM256.37 291.18h1.8v1.8h-1.8zM263.08 291.72h1.8v1.8h-1.8zM263.31 291.58h1.8v1.8h-1.8zM270.87 291.43h1.8v1.8h-1.8zM272.24 292.17h1.8v1.8h-1.8zM276.90 292.36h1.8v1.8h-1.8zM282.23 292.99h1.8v1.8h-1.8zM283.76 291.72h1.8v1.8h-1.8zM286.64 292.40h1.8v1.8h-1.8zM288.51 292.86h1.8v1.8h-1.8zM289.14 292.30h1.8v1.8h-1.8zM324.14 291.95h1.8v1.8h-1.8zM161.83 293.15h1.8v1.8h-1.8zM166.91 293.73h1.8v1.8h-1.8zM179.21 294.86h1.8v1.8h-1.8zM231.86 293.12h1.8v1.8h-1.8zM243.74 294.94h1.8v1.8h-1.8zM246.86 294.69h1.8v1.8h-1.8zM247.52 294.56h1.8v1.8h-1.8zM252.16 293.48h1.8v1.8h-1.8zM257.89 293.12h1.8v1.8h-1.8zM266.98 293.63h1.8v1.8h-1.8zM273.59 294.56h1.8v1.8h-1.8zM275.85 294.96h1.8v1.8h-1.8zM280.40 293.80h1.8v1.8h-1.8zM290.19 293.99h1.8v1.8h-1.8zM292.93 293.78h1.8v1.8h-1.8zM297.00 295.06h1.8v1.8h-1.8zM300.43 294.04h1.8v1.8h-1.8zM303.40 294.79h1.8v1.8h-1.8zM327.18 293.53h1.8v1.8h-1.8zM329.95 293.86h1.8v1.8h-1.8zM335.07 293.29h1.8v1.8h-1.8zM345.36 294.46h1.8v1.8h-1.8zM188.80 296.54h1.8v1.8h-1.8zM196.44 296.83h1.8v1.8h-1.8zM210.15 296.61h1.8v1.8h-1.8zM212.02 296.77h1.8v1.8h-1.8zM214.83 295.80h1.8v1.8h-1.8zM216.50 296.25h1.8v1.8h-1.8zM217.41 295.94h1.8v1.8h-1.8zM231.39 296.79h1.8v1.8h-1.8zM234.15 295.91h1.8v1.8h-1.8zM239.23 296.04h1.8v1.8h-1.8zM247.82 296.76h1.8v1.8h-1.8zM249.48 295.46h1.8v1.8h-1.8zM255.76 295.84h1.8v1.8h-1.8zM268.98 295.43h1.8v1.8h-1.8zM271.17 296.42h1.8v1.8h-1.8zM274.88 295.46h1.8v1.8h-1.8zM279.66 295.72h1.8v1.8h-1.8zM287.52 295.85h1.8v1.8h-1.8zM289.51 296.61h1.8v1.8h-1.8zM292.17 295.37h1.8v1.8h-1.8zM293.68 296.02h1.8v1.8h-1.8zM303.48 296.37h1.8v1.8h-1.8zM163.74 297.76h1.8v1.8h-1.8zM165.85 297.83h1.8v1.8h-1.8zM169.36 299.00h1.8v1.8h-1.8zM202.00 298.73h1.8v1.8h-1.8zM206.75 297.19h1.8v1.8h-1.8zM209.70 297.56h1.8v1.8h-1.8zM219.18 297.27h1.8v1.8h-1.8zM221.45 297.69h1.8v1.8h-1.8zM224.80 297.82h1.8v1.8h-1.8zM230.10 297.18h1.8v1.8h-1.8zM232.96 298.23h1.8v1.8h-1.8zM234.37 298.10h1.8v1.8h-1.8zM236.37 298.52h1.8v1.8h-1.8zM249.50 298.79h1.8v1.8h-1.8zM251.14 298.59h1.8v1.8h-1.8zM253.64 298.94h1.8v1.8h-1.8zM256.75 297.63h1.8v1.8h-1.8zM260.22 298.47h1.8v1.8h-1.8zM264.44 297.43h1.8v1.8h-1.8zM266.66 297.41h1.8v1.8h-1.8zM267.33 298.26h1.8v1.8h-1.8zM269.82 299.06h1.8v1.8h-1.8zM272.10 297.16h1.8v1.8h-1.8zM273.31 298.34h1.8v1.8h-1.8zM275.45 297.39h1.8v1.8h-1.8zM281.73 297.65h1.8v1.8h-1.8zM287.41 298.35h1.8v1.8h-1.8zM290.43 297.45h1.8v1.8h-1.8zM291.24 298.81h1.8v1.8h-1.8zM295.81 298.36h1.8v1.8h-1.8zM298.76 297.11h1.8v1.8h-1.8zM305.07 298.19h1.8v1.8h-1.8zM306.61 297.16h1.8v1.8h-1.8zM313.23 298.76h1.8v1.8h-1.8zM324.87 297.13h1.8v1.8h-1.8zM335.03 297.52h1.8v1.8h-1.8zM195.46 300.15h1.8v1.8h-1.8zM201.44 299.94h1.8v1.8h-1.8zM203.62 300.08h1.8v1.8h-1.8zM207.45 300.04h1.8v1.8h-1.8zM212.42 300.23h1.8v1.8h-1.8zM220.14 299.64h1.8v1.8h-1.8zM221.25 300.48h1.8v1.8h-1.8zM225.56 301.08h1.8v1.8h-1.8zM228.49 299.59h1.8v1.8h-1.8zM233.32 299.97h1.8v1.8h-1.8zM235.52 300.66h1.8v1.8h-1.8zM237.51 299.78h1.8v1.8h-1.8zM241.93 300.17h1.8v1.8h-1.8zM244.23 299.24h1.8v1.8h-1.8zM245.74 301.09h1.8v1.8h-1.8zM247.70 299.76h1.8v1.8h-1.8zM249.42 299.73h1.8v1.8h-1.8zM253.56 299.18h1.8v1.8h-1.8zM257.64 300.80h1.8v1.8h-1.8zM261.24 300.77h1.8v1.8h-1.8zM265.68 300.77h1.8v1.8h-1.8zM267.45 301.07h1.8v1.8h-1.8zM269.46 300.49h1.8v1.8h-1.8zM275.14 299.53h1.8v1.8h-1.8zM282.44 300.45h1.8v1.8h-1.8zM284.91 299.73h1.8v1.8h-1.8zM286.68 300.19h1.8v1.8h-1.8zM290.34 299.40h1.8v1.8h-1.8zM309.10 299.23h1.8v1.8h-1.8zM310.29 301.08h1.8v1.8h-1.8zM313.14 299.42h1.8v1.8h-1.8zM349.34 300.71h1.8v1.8h-1.8zM166.49 301.82h1.8v1.8h-1.8zM182.67 301.20h1.8v1.8h-1.8zM184.49 301.27h1.8v1.8h-1.8zM190.51 302.40h1.8v1.8h-1.8zM200.93 301.82h1.8v1.8h-1.8zM202.77 302.61h1.8v1.8h-1.8zM204.42 303.08h1.8v1.8h-1.8zM206.22 302.41h1.8v1.8h-1.8zM209.86 301.45h1.8v1.8h-1.8zM214.67 301.19h1.8v1.8h-1.8zM218.84 302.75h1.8v1.8h-1.8zM219.30 301.52h1.8v1.8h-1.8zM223.06 302.71h1.8v1.8h-1.8zM223.12 302.22h1.8v1.8h-1.8zM226.20 302.78h1.8v1.8h-1.8zM231.04 302.02h1.8v1.8h-1.8zM231.40 301.58h1.8v1.8h-1.8zM233.66 302.19h1.8v1.8h-1.8zM235.64 301.32h1.8v1.8h-1.8zM238.92 301.98h1.8v1.8h-1.8zM239.36 303.07h1.8v1.8h-1.8zM242.67 301.19h1.8v1.8h-1.8zM244.07 302.01h1.8v1.8h-1.8zM246.24 302.50h1.8v1.8h-1.8zM247.69 301.65h1.8v1.8h-1.8zM249.94 301.32h1.8v1.8h-1.8zM251.22 301.21h1.8v1.8h-1.8zM255.03 302.29h1.8v1.8h-1.8zM256.32 302.09h1.8v1.8h-1.8zM258.71 301.63h1.8v1.8h-1.8zM259.19 301.58h1.8v1.8h-1.8zM264.56 302.08h1.8v1.8h-1.8zM265.81 302.12h1.8v1.8h-1.8zM268.13 301.15h1.8v1.8h-1.8zM269.33 302.06h1.8v1.8h-1.8zM272.92 302.85h1.8v1.8h-1.8zM275.69 302.79h1.8v1.8h-1.8zM277.86 301.22h1.8v1.8h-1.8zM286.77 302.49h1.8v1.8h-1.8zM287.99 302.71h1.8v1.8h-1.8zM290.99 302.95h1.8v1.8h-1.8zM292.18 301.96h1.8v1.8h-1.8zM297.84 301.73h1.8v1.8h-1.8zM310.06 302.49h1.8v1.8h-1.8zM341.16 303.10h1.8v1.8h-1.8zM352.83 302.96h1.8v1.8h-1.8zM158.98 304.32h1.8v1.8h-1.8zM177.58 303.71h1.8v1.8h-1.8zM186.58 304.98h1.8v1.8h-1.8zM187.70 303.93h1.8v1.8h-1.8zM189.29 304.20h1.8v1.8h-1.8zM191.57 304.71h1.8v1.8h-1.8zM206.58 303.15h1.8v1.8h-1.8zM207.61 303.36h1.8v1.8h-1.8zM209.57 304.72h1.8v1.8h-1.8zM214.20 304.60h1.8v1.8h-1.8zM215.25 304.02h1.8v1.8h-1.8zM218.04 305.06h1.8v1.8h-1.8zM219.75 304.26h1.8v1.8h-1.8zM221.71 303.89h1.8v1.8h-1.8zM224.96 303.20h1.8v1.8h-1.8zM226.21 304.93h1.8v1.8h-1.8zM228.40 303.15h1.8v1.8h-1.8zM230.40 303.76h1.8v1.8h-1.8zM233.07 304.22h1.8v1.8h-1.8zM234.23 303.60h1.8v1.8h-1.8zM237.15 303.95h1.8v1.8h-1.8zM239.51 303.96h1.8v1.8h-1.8zM242.98 304.14h1.8v1.8h-1.8zM244.20 304.28h1.8v1.8h-1.8zM246.72 304.01h1.8v1.8h-1.8zM248.63 304.49h1.8v1.8h-1.8zM250.51 305.06h1.8v1.8h-1.8zM251.19 303.67h1.8v1.8h-1.8zM254.43 304.87h1.8v1.8h-1.8zM254.47 304.43h1.8v1.8h-1.8zM256.56 304.19h1.8v1.8h-1.8zM257.41 304.04h1.8v1.8h-1.8zM259.24 304.22h1.8v1.8h-1.8zM261.27 304.57h1.8v1.8h-1.8zM264.88 305.03h1.8v1.8h-1.8zM266.30 304.05h1.8v1.8h-1.8zM268.30 303.78h1.8v1.8h-1.8zM270.19 303.97h1.8v1.8h-1.8zM272.52 304.77h1.8v1.8h-1.8zM274.52 303.59h1.8v1.8h-1.8zM275.34 303.27h1.8v1.8h-1.8zM277.25 304.05h1.8v1.8h-1.8zM279.98 304.85h1.8v1.8h-1.8zM282.07 303.63h1.8v1.8h-1.8zM284.26 303.35h1.8v1.8h-1.8zM285.68 304.56h1.8v1.8h-1.8zM289.58 305.04h1.8v1.8h-1.8zM292.69 305.10h1.8v1.8h-1.8zM297.06 304.88h1.8v1.8h-1.8zM299.04 304.40h1.8v1.8h-1.8zM300.05 303.70h1.8v1.8h-1.8zM303.27 304.88h1.8v1.8h-1.8zM305.45 304.50h1.8v1.8h-1.8zM308.31 303.99h1.8v1.8h-1.8zM311.01 304.49h1.8v1.8h-1.8zM312.90 304.39h1.8v1.8h-1.8zM317.73 303.44h1.8v1.8h-1.8zM343.50 304.16h1.8v1.8h-1.8zM350.44 303.25h1.8v1.8h-1.8zM162.23 305.78h1.8v1.8h-1.8zM172.08 306.07h1.8v1.8h-1.8zM176.10 305.16h1.8v1.8h-1.8zM177.67 305.86h1.8v1.8h-1.8zM200.77 306.16h1.8v1.8h-1.8zM202.59 306.10h1.8v1.8h-1.8zM206.04 306.89h1.8v1.8h-1.8zM209.99 305.96h1.8v1.8h-1.8zM212.89 306.02h1.8v1.8h-1.8zM214.22 306.20h1.8v1.8h-1.8zM215.66 305.61h1.8v1.8h-1.8zM219.54 305.51h1.8v1.8h-1.8zM222.44 305.72h1.8v1.8h-1.8zM224.45 306.59h1.8v1.8h-1.8zM226.53 306.30h1.8v1.8h-1.8zM228.69 306.84h1.8v1.8h-1.8zM227.43 305.87h1.8v1.8h-1.8zM231.05 306.73h1.8v1.8h-1.8zM231.41 306.85h1.8v1.8h-1.8zM233.50 306.92h1.8v1.8h-1.8zM236.93 306.90h1.8v1.8h-1.8zM237.44 306.71h1.8v1.8h-1.8zM237.45 305.80h1.8v1.8h-1.8zM240.76 305.90h1.8v1.8h-1.8zM242.49 307.09h1.8v1.8h-1.8zM243.79 305.58h1.8v1.8h-1.8zM246.32 306.54h1.8v1.8h-1.8zM245.54 306.59h1.8v1.8h-1.8zM248.25 306.15h1.8v1.8h-1.8zM249.13 306.18h1.8v1.8h-1.8zM252.88 307.05h1.8v1.8h-1.8zM253.42 306.82h1.8v1.8h-1.8zM257.03 306.99h1.8v1.8h-1.8zM257.20 305.20h1.8v1.8h-1.8zM258.45 306.08h1.8v1.8h-1.8zM259.75 306.29h1.8v1.8h-1.8zM261.51 306.57h1.8v1.8h-1.8zM261.56 305.33h1.8v1.8h-1.8zM265.07 306.97h1.8v1.8h-1.8zM266.53 305.12h1.8v1.8h-1.8zM268.26 306.16h1.8v1.8h-1.8zM269.16 306.35h1.8v1.8h-1.8zM272.61 305.28h1.8v1.8h-1.8zM274.64 307.07h1.8v1.8h-1.8zM276.66 305.70h1.8v1.8h-1.8zM278.18 306.09h1.8v1.8h-1.8zM279.99 305.86h1.8v1.8h-1.8zM282.39 307.05h1.8v1.8h-1.8zM288.11 306.09h1.8v1.8h-1.8zM293.12 306.84h1.8v1.8h-1.8zM298.30 305.87h1.8v1.8h-1.8zM300.37 306.48h1.8v1.8h-1.8zM304.09 306.00h1.8v1.8h-1.8zM314.64 305.32h1.8v1.8h-1.8zM320.26 306.48h1.8v1.8h-1.8zM327.61 306.98h1.8v1.8h-1.8zM346.95 305.26h1.8v1.8h-1.8zM155.40 307.99h1.8v1.8h-1.8zM170.03 307.80h1.8v1.8h-1.8zM171.51 309.09h1.8v1.8h-1.8zM182.31 307.51h1.8v1.8h-1.8zM184.54 307.51h1.8v1.8h-1.8zM187.74 307.71h1.8v1.8h-1.8zM189.29 307.91h1.8v1.8h-1.8zM192.97 307.62h1.8v1.8h-1.8zM193.23 308.72h1.8v1.8h-1.8zM195.25 307.84h1.8v1.8h-1.8zM202.26 307.25h1.8v1.8h-1.8zM208.78 307.42h1.8v1.8h-1.8zM209.67 308.23h1.8v1.8h-1.8zM212.19 307.61h1.8v1.8h-1.8zM213.33 308.68h1.8v1.8h-1.8zM216.12 308.42h1.8v1.8h-1.8zM217.48 307.92h1.8v1.8h-1.8zM220.56 308.02h1.8v1.8h-1.8zM221.61 309.00h1.8v1.8h-1.8zM224.71 307.84h1.8v1.8h-1.8zM226.52 308.16h1.8v1.8h-1.8zM227.64 308.67h1.8v1.8h-1.8zM230.13 307.39h1.8v1.8h-1.8zM232.87 307.16h1.8v1.8h-1.8zM234.18 308.42h1.8v1.8h-1.8zM236.47 308.54h1.8v1.8h-1.8zM237.41 308.19h1.8v1.8h-1.8zM239.11 308.11h1.8v1.8h-1.8zM242.03 308.62h1.8v1.8h-1.8zM243.17 308.20h1.8v1.8h-1.8zM246.41 307.70h1.8v1.8h-1.8zM248.44 308.97h1.8v1.8h-1.8zM250.27 308.04h1.8v1.8h-1.8zM251.74 308.81h1.8v1.8h-1.8zM255.08 307.78h1.8v1.8h-1.8zM253.98 308.32h1.8v1.8h-1.8zM256.32 307.21h1.8v1.8h-1.8zM257.31 308.85h1.8v1.8h-1.8zM260.67 308.60h1.8v1.8h-1.8zM262.24 307.22h1.8v1.8h-1.8zM262.59 308.68h1.8v1.8h-1.8zM263.99 307.28h1.8v1.8h-1.8zM266.50 307.22h1.8v1.8h-1.8zM268.86 307.46h1.8v1.8h-1.8zM269.65 307.13h1.8v1.8h-1.8zM272.61 307.49h1.8v1.8h-1.8zM272.82 307.97h1.8v1.8h-1.8zM274.73 307.76h1.8v1.8h-1.8zM275.11 307.70h1.8v1.8h-1.8zM278.09 308.26h1.8v1.8h-1.8zM279.11 308.87h1.8v1.8h-1.8zM282.55 308.89h1.8v1.8h-1.8zM284.58 307.54h1.8v1.8h-1.8zM286.13 309.07h1.8v1.8h-1.8zM290.37 307.68h1.8v1.8h-1.8zM291.66 309.09h1.8v1.8h-1.8zM294.03 307.27h1.8v1.8h-1.8zM298.76 307.58h1.8v1.8h-1.8zM299.18 307.81h1.8v1.8h-1.8zM303.76 308.59h1.8v1.8h-1.8zM306.61 309.03h1.8v1.8h-1.8zM310.66 308.68h1.8v1.8h-1.8zM316.45 308.26h1.8v1.8h-1.8zM321.85 308.36h1.8v1.8h-1.8zM337.83 308.96h1.8v1.8h-1.8zM352.28 309.01h1.8v1.8h-1.8zM158.86 310.23h1.8v1.8h-1.8zM180.38 309.19h1.8v1.8h-1.8zM183.88 309.54h1.8v1.8h-1.8zM185.97 309.34h1.8v1.8h-1.8zM188.54 309.30h1.8v1.8h-1.8zM194.65 309.85h1.8v1.8h-1.8zM195.10 309.46h1.8v1.8h-1.8zM199.97 310.28h1.8v1.8h-1.8zM201.40 310.82h1.8v1.8h-1.8zM203.74 310.83h1.8v1.8h-1.8zM205.99 310.67h1.8v1.8h-1.8zM211.06 309.52h1.8v1.8h-1.8zM212.13 310.22h1.8v1.8h-1.8zM214.03 310.66h1.8v1.8h-1.8zM215.97 310.45h1.8v1.8h-1.8zM217.61 309.81h1.8v1.8h-1.8zM219.64 310.12h1.8v1.8h-1.8zM221.57 310.76h1.8v1.8h-1.8zM224.08 309.80h1.8v1.8h-1.8zM226.20 310.79h1.8v1.8h-1.8zM227.61 310.76h1.8v1.8h-1.8zM230.23 310.63h1.8v1.8h-1.8zM231.69 310.30h1.8v1.8h-1.8zM234.44 310.69h1.8v1.8h-1.8zM236.65 309.35h1.8v1.8h-1.8zM238.44 310.37h1.8v1.8h-1.8zM239.98 309.22h1.8v1.8h-1.8zM241.20 310.18h1.8v1.8h-1.8zM241.75 309.17h1.8v1.8h-1.8zM243.23 309.80h1.8v1.8h-1.8zM246.47 309.54h1.8v1.8h-1.8zM247.99 310.75h1.8v1.8h-1.8zM250.39 311.01h1.8v1.8h-1.8zM252.24 310.28h1.8v1.8h-1.8zM253.03 310.30h1.8v1.8h-1.8zM253.38 310.21h1.8v1.8h-1.8zM255.80 311.02h1.8v1.8h-1.8zM255.47 309.51h1.8v1.8h-1.8zM258.11 310.92h1.8v1.8h-1.8zM260.62 309.93h1.8v1.8h-1.8zM262.94 309.49h1.8v1.8h-1.8zM264.05 310.04h1.8v1.8h-1.8zM266.48 309.40h1.8v1.8h-1.8zM268.75 309.92h1.8v1.8h-1.8zM269.60 310.31h1.8v1.8h-1.8zM271.52 309.70h1.8v1.8h-1.8zM274.58 310.19h1.8v1.8h-1.8zM275.81 309.22h1.8v1.8h-1.8zM280.78 309.59h1.8v1.8h-1.8zM281.39 309.88h1.8v1.8h-1.8zM284.20 309.75h1.8v1.8h-1.8zM285.64 310.64h1.8v1.8h-1.8zM289.08 310.78h1.8v1.8h-1.8zM289.11 310.75h1.8v1.8h-1.8zM292.44 310.11h1.8v1.8h-1.8zM294.26 309.13h1.8v1.8h-1.8zM299.66 310.78h1.8v1.8h-1.8zM301.39 310.71h1.8v1.8h-1.8zM307.36 309.12h1.8v1.8h-1.8zM309.76 311.02h1.8v1.8h-1.8zM313.89 310.20h1.8v1.8h-1.8zM315.22 309.48h1.8v1.8h-1.8zM321.05 311.05h1.8v1.8h-1.8zM349.89 310.41h1.8v1.8h-1.8zM183.52 311.35h1.8v1.8h-1.8zM188.96 311.51h1.8v1.8h-1.8zM193.26 311.56h1.8v1.8h-1.8zM198.99 311.41h1.8v1.8h-1.8zM200.09 311.77h1.8v1.8h-1.8zM201.31 312.11h1.8v1.8h-1.8zM207.07 312.34h1.8v1.8h-1.8zM207.83 311.66h1.8v1.8h-1.8zM210.04 312.17h1.8v1.8h-1.8zM211.26 311.16h1.8v1.8h-1.8zM213.82 312.55h1.8v1.8h-1.8zM215.66 311.46h1.8v1.8h-1.8zM217.70 312.10h1.8v1.8h-1.8zM220.27 311.98h1.8v1.8h-1.8zM219.52 311.49h1.8v1.8h-1.8zM222.90 311.72h1.8v1.8h-1.8zM223.78 311.79h1.8v1.8h-1.8zM227.02 311.13h1.8v1.8h-1.8zM228.20 312.32h1.8v1.8h-1.8zM230.54 311.96h1.8v1.8h-1.8zM232.92 311.51h1.8v1.8h-1.8zM234.96 311.44h1.8v1.8h-1.8zM236.66 311.79h1.8v1.8h-1.8zM237.38 312.14h1.8v1.8h-1.8zM240.15 312.85h1.8v1.8h-1.8zM242.40 312.07h1.8v1.8h-1.8zM244.57 312.54h1.8v1.8h-1.8zM245.53 312.41h1.8v1.8h-1.8zM248.59 311.46h1.8v1.8h-1.8zM249.13 313.04h1.8v1.8h-1.8zM251.59 312.30h1.8v1.8h-1.8zM254.21 312.67h1.8v1.8h-1.8zM257.06 312.42h1.8v1.8h-1.8zM258.13 311.40h1.8v1.8h-1.8zM260.88 313.05h1.8v1.8h-1.8zM260.76 311.48h1.8v1.8h-1.8zM261.49 311.75h1.8v1.8h-1.8zM264.96 311.12h1.8v1.8h-1.8zM266.52 312.50h1.8v1.8h-1.8zM267.80 312.59h1.8v1.8h-1.8zM267.51 311.44h1.8v1.8h-1.8zM269.44 311.63h1.8v1.8h-1.8zM271.52 311.30h1.8v1.8h-1.8zM273.78 311.38h1.8v1.8h-1.8zM275.91 311.24h1.8v1.8h-1.8zM277.19 312.58h1.8v1.8h-1.8zM280.04 311.37h1.8v1.8h-1.8zM283.05 312.51h1.8v1.8h-1.8zM283.49 311.43h1.8v1.8h-1.8zM288.63 312.64h1.8v1.8h-1.8zM291.94 311.80h1.8v1.8h-1.8zM294.07 312.51h1.8v1.8h-1.8zM296.79 312.30h1.8v1.8h-1.8zM297.94 311.56h1.8v1.8h-1.8zM301.90 311.96h1.8v1.8h-1.8zM306.44 311.37h1.8v1.8h-1.8zM307.73 311.25h1.8v1.8h-1.8zM312.91 312.47h1.8v1.8h-1.8zM326.27 312.69h1.8v1.8h-1.8zM352.44 311.94h1.8v1.8h-1.8zM182.71 314.65h1.8v1.8h-1.8zM190.96 314.69h1.8v1.8h-1.8zM192.17 313.48h1.8v1.8h-1.8zM194.35 313.38h1.8v1.8h-1.8zM196.34 314.33h1.8v1.8h-1.8zM199.72 313.34h1.8v1.8h-1.8zM206.04 314.48h1.8v1.8h-1.8zM208.07 314.18h1.8v1.8h-1.8zM209.22 313.42h1.8v1.8h-1.8zM211.39 314.87h1.8v1.8h-1.8zM213.13 314.39h1.8v1.8h-1.8zM216.59 313.99h1.8v1.8h-1.8zM218.45 314.97h1.8v1.8h-1.8zM219.65 313.96h1.8v1.8h-1.8zM222.36 313.88h1.8v1.8h-1.8zM223.83 313.45h1.8v1.8h-1.8zM226.55 313.80h1.8v1.8h-1.8zM228.33 314.35h1.8v1.8h-1.8zM230.76 314.98h1.8v1.8h-1.8zM232.30 314.98h1.8v1.8h-1.8zM234.14 313.51h1.8v1.8h-1.8zM235.83 313.63h1.8v1.8h-1.8zM237.47 313.31h1.8v1.8h-1.8zM239.97 314.71h1.8v1.8h-1.8zM242.96 314.92h1.8v1.8h-1.8zM244.42 314.95h1.8v1.8h-1.8zM243.27 313.38h1.8v1.8h-1.8zM245.46 314.99h1.8v1.8h-1.8zM246.86 313.39h1.8v1.8h-1.8zM247.31 314.83h1.8v1.8h-1.8zM247.75 314.24h1.8v1.8h-1.8zM249.94 314.37h1.8v1.8h-1.8zM251.23 313.94h1.8v1.8h-1.8zM254.67 314.35h1.8v1.8h-1.8zM255.15 313.56h1.8v1.8h-1.8zM258.89 314.28h1.8v1.8h-1.8zM259.87 314.60h1.8v1.8h-1.8zM262.05 314.39h1.8v1.8h-1.8zM263.61 314.91h1.8v1.8h-1.8zM265.94 314.95h1.8v1.8h-1.8zM266.24 313.88h1.8v1.8h-1.8zM267.84 314.60h1.8v1.8h-1.8zM270.34 315.00h1.8v1.8h-1.8zM271.67 314.34h1.8v1.8h-1.8zM274.51 314.81h1.8v1.8h-1.8zM275.14 314.38h1.8v1.8h-1.8zM278.46 314.67h1.8v1.8h-1.8zM279.48 313.84h1.8v1.8h-1.8zM282.76 314.51h1.8v1.8h-1.8zM284.20 314.57h1.8v1.8h-1.8zM285.46 315.01h1.8v1.8h-1.8zM290.22 313.51h1.8v1.8h-1.8zM291.21 314.43h1.8v1.8h-1.8zM295.49 313.96h1.8v1.8h-1.8zM298.61 313.59h1.8v1.8h-1.8zM299.91 314.82h1.8v1.8h-1.8zM303.38 313.20h1.8v1.8h-1.8zM309.66 314.80h1.8v1.8h-1.8zM312.56 314.76h1.8v1.8h-1.8zM336.08 313.95h1.8v1.8h-1.8zM155.45 315.80h1.8v1.8h-1.8zM162.13 315.29h1.8v1.8h-1.8zM166.81 315.73h1.8v1.8h-1.8zM170.35 315.24h1.8v1.8h-1.8zM182.93 316.85h1.8v1.8h-1.8zM189.96 316.93h1.8v1.8h-1.8zM194.60 316.72h1.8v1.8h-1.8zM202.68 316.24h1.8v1.8h-1.8zM207.48 316.27h1.8v1.8h-1.8zM209.69 315.10h1.8v1.8h-1.8zM213.10 315.92h1.8v1.8h-1.8zM213.85 316.30h1.8v1.8h-1.8zM215.44 316.15h1.8v1.8h-1.8zM218.49 315.36h1.8v1.8h-1.8zM220.92 316.60h1.8v1.8h-1.8zM222.31 315.48h1.8v1.8h-1.8zM223.99 316.47h1.8v1.8h-1.8zM226.10 315.26h1.8v1.8h-1.8zM227.58 315.88h1.8v1.8h-1.8zM230.99 315.84h1.8v1.8h-1.8zM232.78 316.08h1.8v1.8h-1.8zM233.53 315.78h1.8v1.8h-1.8zM233.11 315.23h1.8v1.8h-1.8zM236.77 316.76h1.8v1.8h-1.8zM237.80 316.98h1.8v1.8h-1.8zM239.97 315.83h1.8v1.8h-1.8zM240.59 316.47h1.8v1.8h-1.8zM243.03 316.31h1.8v1.8h-1.8zM244.30 315.51h1.8v1.8h-1.8zM245.64 316.92h1.8v1.8h-1.8zM247.30 316.40h1.8v1.8h-1.8zM250.64 315.39h1.8v1.8h-1.8zM251.32 315.95h1.8v1.8h-1.8zM253.81 315.92h1.8v1.8h-1.8zM255.32 316.15h1.8v1.8h-1.8zM258.50 315.17h1.8v1.8h-1.8zM258.07 315.11h1.8v1.8h-1.8zM260.99 316.59h1.8v1.8h-1.8zM262.03 316.61h1.8v1.8h-1.8zM263.81 316.06h1.8v1.8h-1.8zM263.45 316.02h1.8v1.8h-1.8zM265.38 316.28h1.8v1.8h-1.8zM267.35 316.17h1.8v1.8h-1.8zM270.24 315.74h1.8v1.8h-1.8zM272.30 315.11h1.8v1.8h-1.8zM274.62 315.77h1.8v1.8h-1.8zM276.82 316.95h1.8v1.8h-1.8zM277.95 316.06h1.8v1.8h-1.8zM279.69 315.62h1.8v1.8h-1.8zM282.67 316.36h1.8v1.8h-1.8zM283.96 316.38h1.8v1.8h-1.8zM285.13 316.15h1.8v1.8h-1.8zM290.91 315.87h1.8v1.8h-1.8zM291.42 315.96h1.8v1.8h-1.8zM293.32 315.73h1.8v1.8h-1.8zM299.57 316.09h1.8v1.8h-1.8zM302.34 315.66h1.8v1.8h-1.8zM307.54 316.23h1.8v1.8h-1.8zM323.86 315.33h1.8v1.8h-1.8zM331.91 315.13h1.8v1.8h-1.8zM341.39 316.95h1.8v1.8h-1.8zM172.54 318.10h1.8v1.8h-1.8zM181.66 317.60h1.8v1.8h-1.8zM203.49 317.52h1.8v1.8h-1.8zM207.68 318.80h1.8v1.8h-1.8zM210.51 317.89h1.8v1.8h-1.8zM212.99 318.82h1.8v1.8h-1.8zM213.36 318.21h1.8v1.8h-1.8zM216.99 317.76h1.8v1.8h-1.8zM217.21 318.08h1.8v1.8h-1.8zM219.35 318.50h1.8v1.8h-1.8zM222.74 318.94h1.8v1.8h-1.8zM223.98 317.79h1.8v1.8h-1.8zM225.91 318.01h1.8v1.8h-1.8zM227.40 317.31h1.8v1.8h-1.8zM230.92 319.06h1.8v1.8h-1.8zM231.51 317.27h1.8v1.8h-1.8zM234.74 317.79h1.8v1.8h-1.8zM235.49 318.50h1.8v1.8h-1.8zM239.01 317.15h1.8v1.8h-1.8zM239.92 317.99h1.8v1.8h-1.8zM241.58 318.93h1.8v1.8h-1.8zM244.19 318.84h1.8v1.8h-1.8zM246.78 317.34h1.8v1.8h-1.8zM247.52 318.12h1.8v1.8h-1.8zM250.89 317.52h1.8v1.8h-1.8zM251.91 317.74h1.8v1.8h-1.8zM254.09 318.69h1.8v1.8h-1.8zM256.77 318.77h1.8v1.8h-1.8zM258.97 318.96h1.8v1.8h-1.8zM260.20 318.84h1.8v1.8h-1.8zM262.84 317.71h1.8v1.8h-1.8zM263.85 318.99h1.8v1.8h-1.8zM265.86 317.13h1.8v1.8h-1.8zM268.23 317.69h1.8v1.8h-1.8zM269.94 318.16h1.8v1.8h-1.8zM272.56 318.17h1.8v1.8h-1.8zM274.98 317.66h1.8v1.8h-1.8zM276.55 317.94h1.8v1.8h-1.8zM277.95 318.21h1.8v1.8h-1.8zM280.85 317.43h1.8v1.8h-1.8zM282.06 317.41h1.8v1.8h-1.8zM285.81 317.27h1.8v1.8h-1.8zM287.83 317.63h1.8v1.8h-1.8zM289.66 318.55h1.8v1.8h-1.8zM292.11 318.40h1.8v1.8h-1.8zM294.74 318.62h1.8v1.8h-1.8zM295.22 317.25h1.8v1.8h-1.8zM300.32 318.27h1.8v1.8h-1.8zM304.00 318.03h1.8v1.8h-1.8zM307.64 318.09h1.8v1.8h-1.8zM318.94 317.13h1.8v1.8h-1.8zM321.68 317.95h1.8v1.8h-1.8zM326.12 318.68h1.8v1.8h-1.8zM182.80 319.52h1.8v1.8h-1.8zM184.82 320.15h1.8v1.8h-1.8zM188.95 320.47h1.8v1.8h-1.8zM197.14 320.29h1.8v1.8h-1.8zM200.78 320.63h1.8v1.8h-1.8zM206.26 320.43h1.8v1.8h-1.8zM208.03 319.24h1.8v1.8h-1.8zM211.54 320.52h1.8v1.8h-1.8zM215.11 320.27h1.8v1.8h-1.8zM220.71 320.31h1.8v1.8h-1.8zM221.13 319.89h1.8v1.8h-1.8zM224.99 321.08h1.8v1.8h-1.8zM226.29 320.65h1.8v1.8h-1.8zM229.07 319.87h1.8v1.8h-1.8zM229.12 319.26h1.8v1.8h-1.8zM234.11 320.55h1.8v1.8h-1.8zM235.98 320.48h1.8v1.8h-1.8zM237.51 319.87h1.8v1.8h-1.8zM240.48 320.24h1.8v1.8h-1.8zM241.59 319.81h1.8v1.8h-1.8zM244.33 319.64h1.8v1.8h-1.8zM245.69 321.03h1.8v1.8h-1.8zM248.86 319.88h1.8v1.8h-1.8zM250.68 319.46h1.8v1.8h-1.8zM252.64 320.83h1.8v1.8h-1.8zM254.39 319.16h1.8v1.8h-1.8zM255.34 319.23h1.8v1.8h-1.8zM257.22 320.09h1.8v1.8h-1.8zM259.48 320.70h1.8v1.8h-1.8zM264.33 319.46h1.8v1.8h-1.8zM266.88 319.24h1.8v1.8h-1.8zM267.59 319.55h1.8v1.8h-1.8zM270.57 319.78h1.8v1.8h-1.8zM274.52 319.83h1.8v1.8h-1.8zM275.22 321.07h1.8v1.8h-1.8zM278.58 319.75h1.8v1.8h-1.8zM280.18 319.35h1.8v1.8h-1.8zM283.20 320.18h1.8v1.8h-1.8zM286.38 320.53h1.8v1.8h-1.8zM288.91 320.72h1.8v1.8h-1.8zM291.68 319.51h1.8v1.8h-1.8zM295.89 319.52h1.8v1.8h-1.8zM300.03 320.61h1.8v1.8h-1.8zM301.55 320.12h1.8v1.8h-1.8zM304.55 320.73h1.8v1.8h-1.8zM305.20 319.85h1.8v1.8h-1.8zM308.80 321.01h1.8v1.8h-1.8zM325.99 319.20h1.8v1.8h-1.8zM160.78 322.86h1.8v1.8h-1.8zM173.49 322.20h1.8v1.8h-1.8zM183.44 322.66h1.8v1.8h-1.8zM189.02 321.47h1.8v1.8h-1.8zM190.87 322.75h1.8v1.8h-1.8zM192.25 322.99h1.8v1.8h-1.8zM202.52 322.81h1.8v1.8h-1.8zM217.78 322.09h1.8v1.8h-1.8zM219.67 322.84h1.8v1.8h-1.8zM224.13 321.32h1.8v1.8h-1.8zM226.97 321.72h1.8v1.8h-1.8zM228.73 322.01h1.8v1.8h-1.8zM230.53 321.45h1.8v1.8h-1.8zM231.56 321.23h1.8v1.8h-1.8zM234.76 322.60h1.8v1.8h-1.8zM235.33 322.13h1.8v1.8h-1.8zM238.36 322.81h1.8v1.8h-1.8zM239.75 322.75h1.8v1.8h-1.8zM242.49 321.77h1.8v1.8h-1.8zM247.08 322.54h1.8v1.8h-1.8zM247.44 322.69h1.8v1.8h-1.8zM252.34 322.82h1.8v1.8h-1.8zM254.96 322.86h1.8v1.8h-1.8zM255.27 322.89h1.8v1.8h-1.8zM258.85 323.01h1.8v1.8h-1.8zM260.63 321.52h1.8v1.8h-1.8zM261.35 322.35h1.8v1.8h-1.8zM263.95 321.15h1.8v1.8h-1.8zM267.78 321.55h1.8v1.8h-1.8zM270.08 322.23h1.8v1.8h-1.8zM271.83 322.03h1.8v1.8h-1.8zM275.20 322.18h1.8v1.8h-1.8zM277.18 321.32h1.8v1.8h-1.8zM279.95 321.63h1.8v1.8h-1.8zM283.69 322.09h1.8v1.8h-1.8zM287.03 321.78h1.8v1.8h-1.8zM289.00 322.14h1.8v1.8h-1.8zM290.05 323.08h1.8v1.8h-1.8zM293.25 322.95h1.8v1.8h-1.8zM295.26 321.94h1.8v1.8h-1.8zM300.71 322.98h1.8v1.8h-1.8zM308.45 321.61h1.8v1.8h-1.8zM318.25 322.42h1.8v1.8h-1.8zM321.49 322.62h1.8v1.8h-1.8zM330.84 321.32h1.8v1.8h-1.8zM336.63 321.72h1.8v1.8h-1.8zM349.98 321.23h1.8v1.8h-1.8zM164.07 323.93h1.8v1.8h-1.8zM170.82 323.76h1.8v1.8h-1.8zM172.34 324.17h1.8v1.8h-1.8zM196.56 324.30h1.8v1.8h-1.8zM201.61 324.28h1.8v1.8h-1.8zM203.75 323.92h1.8v1.8h-1.8zM205.66 324.00h1.8v1.8h-1.8zM211.88 324.72h1.8v1.8h-1.8zM214.52 324.54h1.8v1.8h-1.8zM215.13 323.72h1.8v1.8h-1.8zM218.43 323.25h1.8v1.8h-1.8zM220.54 323.18h1.8v1.8h-1.8zM223.77 323.92h1.8v1.8h-1.8zM226.69 324.93h1.8v1.8h-1.8zM228.47 324.79h1.8v1.8h-1.8zM230.04 323.15h1.8v1.8h-1.8zM235.95 324.34h1.8v1.8h-1.8zM237.21 323.92h1.8v1.8h-1.8zM240.31 324.89h1.8v1.8h-1.8zM242.18 324.02h1.8v1.8h-1.8zM243.49 324.00h1.8v1.8h-1.8zM246.45 323.69h1.8v1.8h-1.8zM249.52 323.48h1.8v1.8h-1.8zM252.78 324.84h1.8v1.8h-1.8zM254.38 323.81h1.8v1.8h-1.8zM255.33 324.84h1.8v1.8h-1.8zM258.06 323.31h1.8v1.8h-1.8zM259.49 325.07h1.8v1.8h-1.8zM261.81 323.26h1.8v1.8h-1.8zM264.10 323.24h1.8v1.8h-1.8zM266.30 324.63h1.8v1.8h-1.8zM268.37 323.77h1.8v1.8h-1.8zM271.08 323.46h1.8v1.8h-1.8zM272.69 323.60h1.8v1.8h-1.8zM274.12 324.12h1.8v1.8h-1.8zM276.62 323.77h1.8v1.8h-1.8zM281.56 324.01h1.8v1.8h-1.8zM288.16 324.09h1.8v1.8h-1.8zM292.52 324.13h1.8v1.8h-1.8zM298.12 325.00h1.8v1.8h-1.8zM300.33 323.65h1.8v1.8h-1.8zM305.38 323.79h1.8v1.8h-1.8zM316.02 324.99h1.8v1.8h-1.8zM317.98 323.63h1.8v1.8h-1.8zM323.47 324.15h1.8v1.8h-1.8zM336.08 323.52h1.8v1.8h-1.8zM173.18 326.01h1.8v1.8h-1.8zM192.14 325.53h1.8v1.8h-1.8zM203.69 325.39h1.8v1.8h-1.8zM211.31 326.60h1.8v1.8h-1.8zM218.29 325.96h1.8v1.8h-1.8zM222.08 326.68h1.8v1.8h-1.8zM223.97 325.30h1.8v1.8h-1.8zM228.04 325.43h1.8v1.8h-1.8zM229.80 325.47h1.8v1.8h-1.8zM231.81 326.38h1.8v1.8h-1.8zM235.09 326.79h1.8v1.8h-1.8zM236.01 326.57h1.8v1.8h-1.8zM238.88 327.04h1.8v1.8h-1.8zM239.75 327.04h1.8v1.8h-1.8zM242.57 326.70h1.8v1.8h-1.8zM244.06 325.76h1.8v1.8h-1.8zM248.44 325.15h1.8v1.8h-1.8zM250.05 326.95h1.8v1.8h-1.8zM258.28 325.95h1.8v1.8h-1.8zM263.39 326.20h1.8v1.8h-1.8zM266.89 325.74h1.8v1.8h-1.8zM268.49 326.31h1.8v1.8h-1.8zM270.30 325.56h1.8v1.8h-1.8zM271.97 326.16h1.8v1.8h-1.8zM275.77 327.02h1.8v1.8h-1.8zM280.81 325.78h1.8v1.8h-1.8zM282.69 326.15h1.8v1.8h-1.8zM285.18 325.88h1.8v1.8h-1.8zM290.42 325.56h1.8v1.8h-1.8zM294.52 325.51h1.8v1.8h-1.8zM297.04 325.31h1.8v1.8h-1.8zM299.04 326.72h1.8v1.8h-1.8zM309.81 326.11h1.8v1.8h-1.8zM311.32 326.39h1.8v1.8h-1.8zM327.36 326.60h1.8v1.8h-1.8zM160.11 327.92h1.8v1.8h-1.8zM165.98 327.28h1.8v1.8h-1.8zM168.82 328.91h1.8v1.8h-1.8zM197.27 328.36h1.8v1.8h-1.8zM200.79 328.02h1.8v1.8h-1.8zM204.91 327.58h1.8v1.8h-1.8zM208.57 327.70h1.8v1.8h-1.8zM219.86 328.43h1.8v1.8h-1.8zM221.68 327.49h1.8v1.8h-1.8zM223.61 327.15h1.8v1.8h-1.8zM228.58 329.02h1.8v1.8h-1.8zM238.83 327.95h1.8v1.8h-1.8zM239.61 328.59h1.8v1.8h-1.8zM241.73 327.99h1.8v1.8h-1.8zM244.74 327.10h1.8v1.8h-1.8zM246.89 328.65h1.8v1.8h-1.8zM247.54 327.93h1.8v1.8h-1.8zM249.57 327.79h1.8v1.8h-1.8zM254.50 327.52h1.8v1.8h-1.8zM258.61 328.95h1.8v1.8h-1.8zM261.05 328.82h1.8v1.8h-1.8zM262.07 327.11h1.8v1.8h-1.8zM263.21 327.79h1.8v1.8h-1.8zM265.24 327.23h1.8v1.8h-1.8zM267.22 327.37h1.8v1.8h-1.8zM271.28 328.83h1.8v1.8h-1.8zM273.55 327.19h1.8v1.8h-1.8zM278.26 328.12h1.8v1.8h-1.8zM290.83 328.13h1.8v1.8h-1.8zM291.76 328.99h1.8v1.8h-1.8zM293.34 329.07h1.8v1.8h-1.8zM299.62 327.74h1.8v1.8h-1.8zM310.91 328.93h1.8v1.8h-1.8zM311.20 328.55h1.8v1.8h-1.8zM314.83 328.07h1.8v1.8h-1.8zM324.17 328.85h1.8v1.8h-1.8zM331.53 327.84h1.8v1.8h-1.8zM333.28 328.70h1.8v1.8h-1.8zM167.45 329.57h1.8v1.8h-1.8zM194.02 330.10h1.8v1.8h-1.8zM207.78 329.72h1.8v1.8h-1.8zM211.14 331.09h1.8v1.8h-1.8zM213.70 329.91h1.8v1.8h-1.8zM217.68 330.07h1.8v1.8h-1.8zM226.90 330.92h1.8v1.8h-1.8zM228.74 330.93h1.8v1.8h-1.8zM234.37 330.66h1.8v1.8h-1.8zM244.99 329.92h1.8v1.8h-1.8zM246.93 329.84h1.8v1.8h-1.8zM256.12 329.89h1.8v1.8h-1.8zM259.98 330.65h1.8v1.8h-1.8zM262.67 330.21h1.8v1.8h-1.8zM268.88 330.34h1.8v1.8h-1.8zM269.31 329.51h1.8v1.8h-1.8zM271.68 329.37h1.8v1.8h-1.8zM273.21 329.30h1.8v1.8h-1.8zM275.29 329.72h1.8v1.8h-1.8zM277.42 330.26h1.8v1.8h-1.8zM280.47 329.56h1.8v1.8h-1.8zM283.96 329.61h1.8v1.8h-1.8zM287.10 329.62h1.8v1.8h-1.8zM288.33 329.21h1.8v1.8h-1.8zM289.55 329.50h1.8v1.8h-1.8zM291.77 329.72h1.8v1.8h-1.8zM312.46 330.75h1.8v1.8h-1.8zM317.10 329.75h1.8v1.8h-1.8zM322.17 329.69h1.8v1.8h-1.8zM348.03 329.40h1.8v1.8h-1.8zM352.84 330.01h1.8v1.8h-1.8zM161.30 332.05h1.8v1.8h-1.8zM188.65 332.76h1.8v1.8h-1.8zM195.37 332.11h1.8v1.8h-1.8zM201.63 333.05h1.8v1.8h-1.8zM215.59 332.10h1.8v1.8h-1.8zM220.91 331.34h1.8v1.8h-1.8zM221.87 331.45h1.8v1.8h-1.8zM223.72 331.12h1.8v1.8h-1.8zM230.58 331.92h1.8v1.8h-1.8zM237.77 331.41h1.8v1.8h-1.8zM241.24 332.00h1.8v1.8h-1.8zM244.67 331.14h1.8v1.8h-1.8zM245.73 331.32h1.8v1.8h-1.8zM256.38 331.40h1.8v1.8h-1.8zM265.27 332.60h1.8v1.8h-1.8zM267.73 332.18h1.8v1.8h-1.8zM274.77 332.42h1.8v1.8h-1.8zM281.79 332.97h1.8v1.8h-1.8zM284.92 331.62h1.8v1.8h-1.8zM293.89 331.36h1.8v1.8h-1.8zM300.96 332.95h1.8v1.8h-1.8zM302.87 332.52h1.8v1.8h-1.8zM303.39 332.33h1.8v1.8h-1.8zM314.51 331.68h1.8v1.8h-1.8zM316.02 331.17h1.8v1.8h-1.8zM321.07 333.07h1.8v1.8h-1.8zM327.84 332.05h1.8v1.8h-1.8zM337.76 332.82h1.8v1.8h-1.8zM344.84 332.51h1.8v1.8h-1.8zM346.10 331.83h1.8v1.8h-1.8zM186.74 333.36h1.8v1.8h-1.8zM224.32 333.63h1.8v1.8h-1.8zM229.77 334.42h1.8v1.8h-1.8zM235.62 333.45h1.8v1.8h-1.8zM237.89 334.64h1.8v1.8h-1.8zM242.52 333.48h1.8v1.8h-1.8zM245.58 334.73h1.8v1.8h-1.8zM253.69 334.45h1.8v1.8h-1.8zM255.99 333.95h1.8v1.8h-1.8zM257.65 333.62h1.8v1.8h-1.8zM262.24 333.76h1.8v1.8h-1.8zM274.89 333.50h1.8v1.8h-1.8zM276.59 333.29h1.8v1.8h-1.8zM282.01 333.33h1.8v1.8h-1.8zM298.29 333.13h1.8v1.8h-1.8zM301.96 333.83h1.8v1.8h-1.8zM308.15 334.73h1.8v1.8h-1.8zM318.85 334.71h1.8v1.8h-1.8zM320.92 334.09h1.8v1.8h-1.8zM158.70 336.78h1.8v1.8h-1.8zM167.81 335.80h1.8v1.8h-1.8zM178.06 336.98h1.8v1.8h-1.8zM182.24 335.49h1.8v1.8h-1.8zM191.13 335.78h1.8v1.8h-1.8zM196.93 336.03h1.8v1.8h-1.8zM200.04 335.31h1.8v1.8h-1.8zM205.81 337.04h1.8v1.8h-1.8zM218.25 336.92h1.8v1.8h-1.8zM219.72 335.94h1.8v1.8h-1.8zM229.01 335.47h1.8v1.8h-1.8zM231.31 336.43h1.8v1.8h-1.8zM237.31 335.26h1.8v1.8h-1.8zM241.43 336.01h1.8v1.8h-1.8zM249.62 336.48h1.8v1.8h-1.8zM252.51 335.33h1.8v1.8h-1.8zM254.19 335.11h1.8v1.8h-1.8zM261.86 335.79h1.8v1.8h-1.8zM263.97 335.39h1.8v1.8h-1.8zM265.25 335.38h1.8v1.8h-1.8zM267.93 335.39h1.8v1.8h-1.8zM270.26 336.23h1.8v1.8h-1.8zM272.51 336.17h1.8v1.8h-1.8zM274.83 336.24h1.8v1.8h-1.8zM276.10 335.19h1.8v1.8h-1.8zM278.87 335.88h1.8v1.8h-1.8zM281.98 336.84h1.8v1.8h-1.8zM292.74 335.59h1.8v1.8h-1.8zM297.49 337.07h1.8v1.8h-1.8zM349.11 335.72h1.8v1.8h-1.8zM157.10 337.11h1.8v1.8h-1.8zM183.22 338.53h1.8v1.8h-1.8zM210.30 338.67h1.8v1.8h-1.8zM216.68 338.52h1.8v1.8h-1.8zM229.05 338.50h1.8v1.8h-1.8zM240.86 338.97h1.8v1.8h-1.8zM246.45 337.96h1.8v1.8h-1.8zM250.79 337.18h1.8v1.8h-1.8zM253.98 337.63h1.8v1.8h-1.8zM255.24 337.33h1.8v1.8h-1.8zM257.59 337.73h1.8v1.8h-1.8zM271.86 337.55h1.8v1.8h-1.8zM284.56 338.37h1.8v1.8h-1.8zM290.89 337.28h1.8v1.8h-1.8zM295.87 337.52h1.8v1.8h-1.8zM305.30 337.42h1.8v1.8h-1.8zM317.18 337.46h1.8v1.8h-1.8zM352.07 339.07h1.8v1.8h-1.8zM179.32 339.56h1.8v1.8h-1.8zM184.91 340.24h1.8v1.8h-1.8zM203.33 340.19h1.8v1.8h-1.8zM205.33 341.05h1.8v1.8h-1.8zM210.83 339.45h1.8v1.8h-1.8zM221.03 339.25h1.8v1.8h-1.8zM221.39 341.00h1.8v1.8h-1.8zM225.83 339.15h1.8v1.8h-1.8zM247.45 340.62h1.8v1.8h-1.8zM251.39 340.65h1.8v1.8h-1.8zM255.87 340.29h1.8v1.8h-1.8zM269.06 339.67h1.8v1.8h-1.8zM269.98 340.79h1.8v1.8h-1.8zM272.93 340.69h1.8v1.8h-1.8zM284.00 339.72h1.8v1.8h-1.8zM291.01 339.89h1.8v1.8h-1.8zM307.28 339.36h1.8v1.8h-1.8zM309.32 339.93h1.8v1.8h-1.8zM315.35 339.16h1.8v1.8h-1.8zM347.82 340.59h1.8v1.8h-1.8zM158.28 343.05h1.8v1.8h-1.8zM160.01 341.84h1.8v1.8h-1.8zM170.51 342.80h1.8v1.8h-1.8zM174.76 342.89h1.8v1.8h-1.8zM176.22 341.70h1.8v1.8h-1.8zM192.48 341.93h1.8v1.8h-1.8zM201.76 341.12h1.8v1.8h-1.8zM209.01 341.11h1.8v1.8h-1.8zM226.42 341.28h1.8v1.8h-1.8zM243.93 342.58h1.8v1.8h-1.8zM245.66 343.09h1.8v1.8h-1.8zM253.62 342.71h1.8v1.8h-1.8zM258.12 342.50h1.8v1.8h-1.8zM277.21 342.88h1.8v1.8h-1.8zM283.43 341.88h1.8v1.8h-1.8zM289.54 341.85h1.8v1.8h-1.8zM292.27 342.78h1.8v1.8h-1.8zM307.36 341.16h1.8v1.8h-1.8zM320.91 342.02h1.8v1.8h-1.8zM322.31 342.91h1.8v1.8h-1.8zM324.44 342.24h1.8v1.8h-1.8zM325.61 341.33h1.8v1.8h-1.8zM337.88 341.57h1.8v1.8h-1.8zM167.45 344.73h1.8v1.8h-1.8zM185.76 343.21h1.8v1.8h-1.8zM205.55 343.81h1.8v1.8h-1.8zM219.78 343.49h1.8v1.8h-1.8zM228.23 343.65h1.8v1.8h-1.8zM244.21 344.47h1.8v1.8h-1.8zM245.71 343.92h1.8v1.8h-1.8zM248.60 343.32h1.8v1.8h-1.8zM252.52 344.49h1.8v1.8h-1.8zM271.99 344.54h1.8v1.8h-1.8zM275.85 344.75h1.8v1.8h-1.8zM286.62 343.67h1.8v1.8h-1.8zM298.84 344.22h1.8v1.8h-1.8zM322.55 343.79h1.8v1.8h-1.8zM334.93 344.25h1.8v1.8h-1.8zM336.66 343.63h1.8v1.8h-1.8zM353.09 344.37h1.8v1.8h-1.8zM164.96 346.87h1.8v1.8h-1.8zM199.71 345.62h1.8v1.8h-1.8zM207.74 346.69h1.8v1.8h-1.8zM218.19 346.13h1.8v1.8h-1.8zM239.68 346.36h1.8v1.8h-1.8zM243.50 345.15h1.8v1.8h-1.8zM246.14 345.57h1.8v1.8h-1.8zM248.45 345.38h1.8v1.8h-1.8zM263.28 345.11h1.8v1.8h-1.8zM273.91 346.45h1.8v1.8h-1.8zM277.94 346.54h1.8v1.8h-1.8zM279.81 346.68h1.8v1.8h-1.8zM285.56 346.64h1.8v1.8h-1.8zM289.77 345.94h1.8v1.8h-1.8zM295.88 346.19h1.8v1.8h-1.8zM300.71 345.92h1.8v1.8h-1.8zM305.52 346.01h1.8v1.8h-1.8zM312.14 345.30h1.8v1.8h-1.8zM313.53 345.31h1.8v1.8h-1.8zM349.94 345.56h1.8v1.8h-1.8zM158.25 348.28h1.8v1.8h-1.8zM172.47 347.45h1.8v1.8h-1.8zM201.65 348.23h1.8v1.8h-1.8zM204.97 348.48h1.8v1.8h-1.8zM212.75 348.81h1.8v1.8h-1.8zM228.99 348.44h1.8v1.8h-1.8zM230.68 347.69h1.8v1.8h-1.8zM231.91 347.31h1.8v1.8h-1.8zM235.58 347.25h1.8v1.8h-1.8zM247.62 347.50h1.8v1.8h-1.8zM262.10 348.17h1.8v1.8h-1.8zM279.38 347.59h1.8v1.8h-1.8zM311.84 348.38h1.8v1.8h-1.8zM157.92 349.96h1.8v1.8h-1.8zM170.84 350.92h1.8v1.8h-1.8zM206.20 349.34h1.8v1.8h-1.8zM218.35 351.01h1.8v1.8h-1.8zM227.24 349.38h1.8v1.8h-1.8zM234.00 350.82h1.8v1.8h-1.8zM244.28 350.14h1.8v1.8h-1.8zM254.90 350.06h1.8v1.8h-1.8zM283.80 349.66h1.8v1.8h-1.8zM293.78 350.22h1.8v1.8h-1.8zM158.13 352.52h1.8v1.8h-1.8zM207.01 352.85h1.8v1.8h-1.8zM212.30 352.96h1.8v1.8h-1.8zM215.68 352.86h1.8v1.8h-1.8zM234.75 352.05h1.8v1.8h-1.8zM242.76 351.13h1.8v1.8h-1.8zM245.91 352.43h1.8v1.8h-1.8zM262.83 352.10h1.8v1.8h-1.8zM278.77 351.50h1.8v1.8h-1.8zM279.17 352.59h1.8v1.8h-1.8zM291.65 351.62h1.8v1.8h-1.8zM296.91 351.73h1.8v1.8h-1.8zM300.29 352.41h1.8v1.8h-1.8zM301.29 351.96h1.8v1.8h-1.8zM310.16 353.00h1.8v1.8h-1.8zM157.97 353.13h1.8v1.8h-1.8zM174.17 353.15h1.8v1.8h-1.8zM200.83 354.15h1.8v1.8h-1.8zM221.65 353.91h1.8v1.8h-1.8zM229.13 354.01h1.8v1.8h-1.8zM233.50 353.74h1.8v1.8h-1.8zM238.92 353.55h1.8v1.8h-1.8zM256.19 353.99h1.8v1.8h-1.8zM338.68 354.37h1.8v1.8h-1.8zM211.83 356.86h1.8v1.8h-1.8zM213.20 356.18h1.8v1.8h-1.8zM220.50 356.96h1.8v1.8h-1.8zM240.77 356.17h1.8v1.8h-1.8zM250.72 356.28h1.8v1.8h-1.8zM251.71 355.33h1.8v1.8h-1.8zM253.55 355.23h1.8v1.8h-1.8zM268.01 357.05h1.8v1.8h-1.8zM272.15 356.27h1.8v1.8h-1.8zM294.72 356.44h1.8v1.8h-1.8zM312.70 356.28h1.8v1.8h-1.8zM344.27 355.55h1.8v1.8h-1.8zM174.24 357.29h1.8v1.8h-1.8zM184.09 358.46h1.8v1.8h-1.8zM195.05 358.78h1.8v1.8h-1.8zM198.59 357.69h1.8v1.8h-1.8zM220.77 357.44h1.8v1.8h-1.8zM230.75 358.83h1.8v1.8h-1.8zM238.63 358.20h1.8v1.8h-1.8zM250.53 357.23h1.8v1.8h-1.8zM251.70 358.37h1.8v1.8h-1.8zM258.67 358.37h1.8v1.8h-1.8zM269.09 357.78h1.8v1.8h-1.8zM275.91 357.74h1.8v1.8h-1.8zM283.19 358.99h1.8v1.8h-1.8zM293.82 358.75h1.8v1.8h-1.8zM314.76 358.97h1.8v1.8h-1.8z" fill="#262626"/>
</svg></body></html>
